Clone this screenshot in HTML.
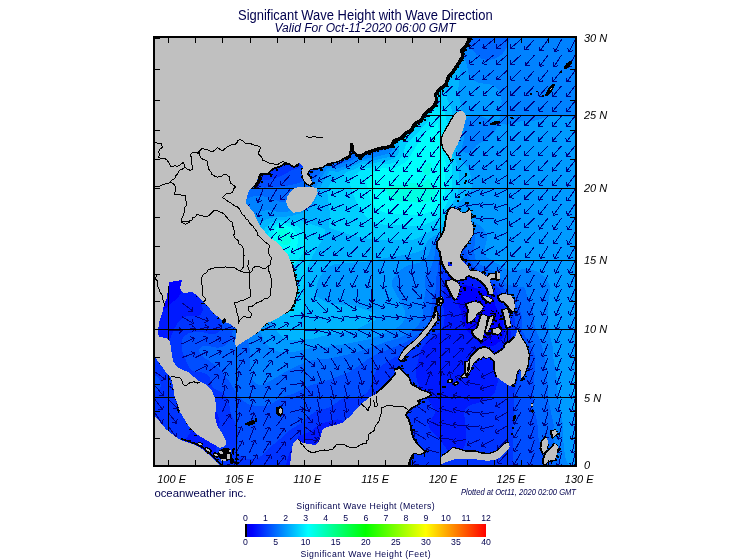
<!DOCTYPE html>
<html><head><meta charset="utf-8"><title>Significant Wave Height with Wave Direction</title>
<style>
html,body{margin:0;padding:0;background:#fff;}
body{width:755px;height:560px;overflow:hidden;font-family:"Liberation Sans",sans-serif;}
svg{display:block;font-family:"Liberation Sans",sans-serif;will-change:transform;}
</style></head><body>
<svg width="755" height="560" viewBox="0 0 755 560">
<defs>
<clipPath id="fr"><rect x="153" y="36" width="424" height="431"/></clipPath>
<linearGradient id="cb" x1="0" x2="1" y1="0" y2="0">
<stop offset="0" stop-color="#0000e0"/><stop offset="0.03" stop-color="#0000ff"/><stop offset="0.262" stop-color="#00ffff"/><stop offset="0.5" stop-color="#00ff00"/><stop offset="0.75" stop-color="#ffff00"/><stop offset="1" stop-color="#ff0000"/>
</linearGradient>
</defs>
<rect width="755" height="560" fill="#ffffff"/>
<g clip-path="url(#fr)">
<g shape-rendering="crispEdges">
<rect x="153" y="36" width="424" height="431" fill="#0000ff"/>
<path d="M237.4,36.0L577.0,36.0L577.0,468.0L153.0,468.0L153.0,317.7L155.0,317.0L159.0,314.2L177.5,298.0L181.0,293.4L182.2,288.0L180.9,282.0L177.5,276.0L164.5,260.0L155.0,246.8L153.0,245.1L153.0,158.7L155.0,157.0L162.7,146.0L167.7,140.0L173.5,134.0L181.0,127.4L189.0,121.6L197.0,116.6L222.1,104.0L229.0,100.0L234.1,96.0L237.6,92.0L239.9,88.0L241.4,84.0L242.7,74.0L241.7,60.0ZM460.5,286.0L457.9,288.0L456.7,290.0L456.0,292.0L455.7,296.0L457.0,301.9L460.6,310.0L462.9,322.0L465.6,328.0L468.6,332.0L476.1,340.0L479.0,342.7L483.0,345.4L489.0,346.6L493.0,345.8L497.0,343.8L501.0,340.3L503.5,336.0L503.8,332.0L503.2,324.0L501.8,318.0L495.5,306.0L493.0,296.5L491.8,294.0L489.0,291.6L479.0,289.2L470.5,286.0L465.0,285.2Z" fill="#001aff" fill-rule="evenodd"/>
<path d="M307.2,36.0L577.0,36.0L577.0,468.0L366.4,468.0L364.7,458.0L361.7,446.0L358.8,438.0L355.7,432.0L351.0,426.0L347.0,422.8L341.4,420.0L337.0,419.4L321.0,423.4L319.0,424.5L311.0,431.1L298.9,436.0L295.7,440.0L288.3,456.0L286.6,462.0L285.8,468.0L212.4,468.0L216.3,450.0L217.6,434.0L219.6,422.0L219.0,418.4L216.6,412.0L215.2,406.0L213.0,404.4L211.0,404.3L207.0,405.0L203.0,406.4L200.5,408.0L197.0,411.8L194.1,418.0L190.3,432.0L188.2,436.0L185.0,439.3L177.0,445.4L169.0,450.2L161.0,453.4L153.0,454.9L153.0,354.2L165.0,354.7L169.0,353.5L170.6,350.0L169.9,342.0L170.4,338.0L173.5,330.0L177.0,324.0L181.0,319.5L185.0,316.6L189.0,315.9L195.0,316.3L199.0,315.6L201.3,314.0L202.8,310.0L202.0,304.0L196.5,282.0L183.8,248.0L179.6,232.0L178.4,222.0L178.6,212.0L180.1,202.0L182.6,194.0L187.3,184.0L194.8,174.0L203.0,166.7L211.0,161.9L217.0,159.4L223.0,157.7L235.0,156.4L247.0,157.9L263.0,162.5L269.0,162.3L275.0,159.5L306.0,140.0L314.5,134.0L320.6,128.0L322.9,124.0L324.0,120.0L324.3,116.0L323.9,110.0L322.0,100.0L313.9,70.0L309.8,52.0ZM448.4,260.0L447.0,262.1L446.4,266.0L447.7,274.0L447.6,278.0L444.3,290.0L443.0,304.0L444.6,318.0L443.6,326.0L441.8,330.0L440.3,332.0L437.9,334.0L429.0,339.1L426.4,342.0L420.7,350.0L419.4,354.0L416.4,370.0L416.1,376.0L416.8,380.0L418.5,384.0L434.6,410.0L435.1,412.0L434.6,414.0L429.0,422.2L428.5,426.0L429.2,428.0L431.0,430.5L438.7,438.0L447.0,449.3L451.0,451.9L455.0,452.7L458.6,452.0L461.0,450.7L463.5,448.0L465.4,444.0L466.0,440.0L465.8,428.0L464.1,414.0L464.9,410.0L466.2,408.0L468.5,406.0L471.0,404.8L481.0,402.1L487.0,399.4L491.8,396.0L494.9,392.0L498.9,378.0L507.0,359.1L509.0,353.2L510.8,344.0L511.1,336.0L509.4,322.0L507.9,316.0L499.0,296.0L495.3,290.0L491.0,286.7L477.0,280.8L468.4,276.0L464.1,272.0L458.0,262.0L455.0,259.2L453.0,258.4L451.0,258.4Z" fill="#0034ff" fill-rule="evenodd"/>
<path d="M345.1,36.0L577.0,36.0L577.0,468.0L513.3,468.0L512.5,444.0L513.5,424.0L513.8,398.0L514.7,392.0L520.8,368.0L522.0,358.0L521.1,350.0L516.2,332.0L514.3,316.0L512.0,310.0L505.7,298.0L498.5,288.0L495.0,284.6L491.0,281.8L477.0,274.7L472.9,272.0L468.8,268.0L461.0,255.7L459.0,253.7L455.0,251.6L451.0,251.1L447.0,252.3L445.0,254.7L443.0,259.9L442.3,264.0L442.3,274.0L437.4,304.0L436.6,318.0L434.7,324.0L430.5,330.0L407.0,351.6L403.0,354.0L395.0,357.2L389.7,360.0L378.6,368.0L376.7,370.0L374.6,374.0L370.0,388.0L367.2,392.0L365.0,394.0L359.0,396.6L349.0,396.6L345.0,397.4L341.0,399.4L331.0,406.8L328.0,408.0L319.0,410.0L315.0,411.9L306.6,418.0L300.0,424.0L289.9,430.0L283.0,436.7L271.4,446.0L263.0,454.7L259.0,457.5L255.0,458.8L249.0,459.2L243.0,457.6L239.0,454.8L237.4,452.0L237.0,450.0L238.1,436.0L237.4,428.0L235.2,422.0L230.8,414.0L228.8,402.0L227.2,398.0L223.0,393.2L215.0,389.2L213.0,387.7L211.0,384.0L210.0,378.0L209.0,376.0L207.0,374.1L203.0,372.6L195.0,372.0L191.4,370.0L189.0,366.9L183.0,354.0L181.7,350.0L181.7,342.0L182.7,338.0L184.0,336.0L189.0,333.1L197.0,331.7L203.0,332.2L211.0,334.1L215.0,334.0L217.0,333.2L219.0,331.5L219.9,330.0L220.8,326.0L220.3,320.0L217.7,308.0L204.0,262.0L199.7,242.0L198.9,230.0L199.6,220.0L201.8,210.0L204.9,202.0L209.6,194.0L215.0,187.7L222.2,182.0L229.0,178.5L235.0,176.6L243.0,175.8L251.0,176.8L261.0,179.9L265.0,180.4L269.0,179.9L275.6,178.0L281.0,176.0L291.0,170.7L301.0,166.9L316.3,156.0L321.0,153.3L327.0,151.3L337.0,149.4L343.0,147.2L348.0,144.0L352.3,140.0L353.8,138.0L355.6,134.0L356.3,128.0L355.0,118.0L348.2,86.0L345.6,68.0L344.7,52.0ZM153.0,375.1L157.0,376.3L159.0,378.5L160.4,382.0L160.7,386.0L160.1,388.0L158.7,390.0L157.0,391.0L153.0,391.7Z" fill="#004eff" fill-rule="evenodd"/>
<path d="M374.5,36.0L577.0,36.0L577.0,468.0L552.3,468.0L552.2,462.0L551.0,458.9L543.1,450.0L539.9,444.0L538.2,436.0L537.3,422.0L533.0,406.0L532.5,402.0L535.0,364.0L534.7,356.0L533.0,350.2L530.1,344.0L522.6,332.0L521.7,328.0L522.0,316.0L520.0,310.0L509.9,294.0L497.0,281.1L491.0,276.3L478.8,270.0L473.6,266.0L470.9,262.0L465.0,249.1L463.0,246.9L459.0,244.8L453.0,244.2L445.0,244.6L441.0,246.0L440.0,248.0L437.9,270.0L435.7,280.0L435.5,290.0L432.1,302.0L430.5,316.0L428.5,322.0L423.4,330.0L419.0,333.9L403.0,343.8L391.4,348.0L371.0,356.8L355.0,368.6L347.0,372.9L327.0,380.7L311.0,385.1L295.0,393.1L283.0,396.9L269.0,405.3L263.0,406.5L257.0,406.2L249.0,404.5L243.0,400.7L237.0,393.5L229.0,381.1L221.0,370.4L211.0,362.1L203.0,356.9L200.2,354.0L199.4,352.0L199.2,350.0L200.0,348.0L203.0,345.8L207.0,345.6L217.0,347.8L221.0,347.3L225.0,345.4L227.0,343.8L229.9,340.0L231.6,336.0L232.5,332.0L232.7,324.0L231.1,314.0L218.4,270.0L215.7,258.0L214.4,248.0L214.1,236.0L215.3,226.0L218.0,216.0L221.6,208.0L225.4,202.0L230.5,196.0L235.1,192.0L241.0,188.6L245.0,187.3L249.0,186.6L265.0,187.6L283.0,186.3L291.0,185.1L299.0,183.1L303.0,181.2L307.0,178.2L317.0,168.5L321.0,163.5L325.0,160.5L329.0,159.6L337.0,159.8L347.0,156.9L357.0,151.1L369.0,147.1L372.6,144.0L373.9,140.0L373.8,136.0L368.9,98.0L367.8,76.0L368.3,66.0L369.6,56.0Z" fill="#0068ff" fill-rule="evenodd"/>
<path d="M395.7,48.0L403.8,36.0L462.7,36.0L463.6,38.0L467.8,44.0L477.0,55.1L481.0,58.3L483.0,59.2L487.0,60.0L491.0,59.6L495.0,58.5L499.0,56.6L502.3,54.0L506.4,48.0L511.2,36.0L577.0,36.0L577.0,468.0L560.5,468.0L558.9,460.0L553.8,442.0L553.3,436.0L553.6,424.0L548.3,400.0L547.8,384.0L545.9,372.0L544.6,356.0L541.0,343.1L534.6,326.0L532.8,308.0L527.0,296.0L525.0,288.2L523.0,287.1L515.0,286.6L507.0,284.1L504.1,282.0L499.0,276.0L495.0,272.3L489.0,268.7L479.0,264.1L477.0,262.1L475.1,258.0L474.3,252.0L474.2,248.0L475.4,240.0L475.1,236.0L473.0,231.5L471.0,230.8L453.0,238.0L441.0,241.2L439.0,242.0L436.6,244.0L435.1,248.0L434.6,256.0L431.7,266.0L429.8,270.0L425.6,276.0L425.0,278.0L425.6,290.0L423.8,302.0L423.0,316.0L419.0,324.2L415.0,328.4L403.4,336.0L399.4,338.0L387.0,341.6L355.0,352.9L329.0,358.6L313.0,359.9L307.0,361.4L285.0,372.0L269.0,381.8L263.0,384.5L259.0,384.8L256.5,384.0L254.0,382.0L251.6,378.0L250.3,372.0L250.2,354.0L249.2,346.0L242.4,314.0L231.0,276.0L227.2,258.0L226.4,248.0L226.9,238.0L228.5,230.0L231.3,222.0L234.3,216.0L238.3,210.0L245.0,201.8L249.0,197.9L253.0,196.5L263.0,196.3L271.0,198.0L281.0,202.5L285.0,202.2L301.0,192.5L309.0,186.9L313.0,182.6L315.9,178.0L321.0,171.9L325.0,166.0L327.0,164.7L329.0,164.2L335.0,164.9L339.0,164.5L351.0,160.5L359.0,155.9L372.2,154.0L383.0,150.1L385.0,148.4L385.7,146.0L383.6,134.0L383.0,118.0L383.4,94.0L385.0,78.0L387.8,66.0L391.5,56.0Z" fill="#0082ff" fill-rule="evenodd"/>
<path d="M435.0,45.9L441.0,45.7L447.0,46.7L453.0,49.0L457.0,51.3L461.0,54.6L465.0,59.8L466.6,64.0L468.8,74.0L473.0,79.6L475.0,81.1L479.0,82.9L491.0,84.7L494.2,86.0L497.1,88.0L499.8,92.0L501.6,100.0L501.3,108.0L499.1,122.0L499.9,124.0L507.0,124.6L521.0,121.2L535.0,120.5L553.0,115.7L557.0,115.6L569.0,117.1L577.0,117.4L577.0,468.0L570.0,468.0L566.1,460.0L565.0,456.0L562.9,438.0L562.5,422.0L559.7,408.0L557.1,386.0L556.3,374.0L553.6,360.0L552.9,348.0L549.6,334.0L547.8,318.0L547.5,308.0L550.4,290.0L549.4,284.0L547.0,280.0L543.4,276.0L539.0,272.7L535.0,270.7L531.0,269.5L527.0,269.0L523.0,269.1L513.0,270.9L509.0,270.6L505.0,268.6L487.0,257.2L485.0,254.9L484.1,252.0L484.2,250.0L486.9,240.0L486.8,236.0L485.5,232.0L482.6,228.0L480.4,226.0L469.0,218.4L467.0,217.9L465.0,218.1L463.0,219.6L454.2,230.0L449.3,234.0L445.8,236.0L437.0,239.1L435.0,240.3L431.9,244.0L428.9,254.0L427.0,257.2L425.0,259.4L419.0,262.8L409.0,265.2L403.3,268.0L398.4,272.0L393.6,278.0L391.8,282.0L391.8,286.0L402.6,306.0L404.4,310.0L405.3,314.0L404.9,318.0L403.0,322.0L399.5,326.0L395.0,329.2L373.0,338.1L367.0,339.8L343.0,344.6L325.0,347.1L311.0,348.1L295.0,351.7L287.0,352.4L277.0,351.4L271.0,348.5L267.0,344.7L263.6,340.0L259.4,330.0L242.3,278.0L239.5,268.0L238.0,260.0L237.3,250.0L237.9,242.0L239.8,234.0L243.5,226.0L247.0,221.2L251.0,217.4L255.0,214.6L261.0,211.5L265.0,210.4L269.0,210.3L281.0,212.4L285.0,212.5L289.0,211.3L297.7,206.0L305.0,200.2L311.0,193.7L315.0,188.2L325.9,170.0L328.0,168.0L331.0,167.4L335.0,168.2L339.0,168.1L351.0,164.0L361.0,158.9L371.0,158.2L387.0,154.0L391.0,152.1L392.1,150.0L392.2,148.0L390.2,138.0L390.8,130.0L397.8,90.0L399.7,82.0L402.6,74.0L405.5,68.0L409.0,62.5L413.0,57.7L416.9,54.0L425.0,48.8L429.0,47.3ZM471.0,116.0L469.0,117.0L465.9,120.0L464.7,122.0L463.7,126.0L464.2,138.0L461.9,148.0L463.0,151.3L465.0,152.8L467.0,153.1L470.5,152.0L477.0,144.9L487.0,139.0L491.0,136.0L494.4,132.0L497.4,126.0L497.3,124.0L481.0,115.9L477.0,114.9Z" fill="#009bff" fill-rule="evenodd"/>
<path d="M443.0,61.7L449.0,61.4L455.0,62.7L457.0,63.8L459.0,66.0L459.7,68.0L460.0,72.0L458.0,92.0L458.5,96.0L460.8,104.0L461.1,108.0L458.1,124.0L456.3,148.0L457.0,152.0L458.8,156.0L467.9,168.0L470.4,174.0L471.9,184.0L471.6,188.0L470.0,192.0L466.1,196.0L459.0,201.8L457.3,204.0L455.7,208.0L453.6,218.0L451.8,222.0L447.8,228.0L443.0,232.5L435.0,235.6L430.8,238.0L427.0,242.0L423.0,249.1L421.0,250.8L413.0,253.3L401.0,255.6L387.0,257.6L369.0,261.3L335.0,264.1L329.0,266.7L325.0,270.2L321.9,274.0L318.5,280.0L315.6,290.0L315.6,294.0L317.0,296.3L325.0,301.7L331.0,304.1L351.0,304.9L367.0,310.0L371.3,312.0L375.0,314.8L376.7,318.0L375.7,320.0L358.9,328.0L353.5,330.0L345.0,331.9L329.0,334.5L313.0,338.7L293.0,340.5L288.7,340.0L283.9,338.0L281.0,335.8L277.6,332.0L271.0,320.7L255.0,282.2L250.6,270.0L247.8,258.0L247.4,248.0L248.7,240.0L252.0,232.0L254.8,228.0L258.9,224.0L263.0,221.0L267.0,219.0L275.0,217.0L285.0,216.8L290.8,216.0L303.0,212.5L309.0,209.2L312.1,206.0L315.0,201.5L320.9,186.0L329.0,171.7L331.0,170.9L337.0,171.8L339.0,171.6L347.0,168.1L353.0,166.3L361.0,161.8L363.0,161.3L373.0,160.7L389.0,157.0L393.0,155.0L395.0,152.7L395.8,150.0L394.6,142.0L395.6,136.0L404.7,116.0L410.5,94.0L415.0,82.7L421.0,74.0L427.0,68.4L435.0,63.9ZM577.0,372.7L577.0,374.0L577.0,420.9L575.0,415.1L573.4,408.0L572.2,386.0L572.7,382.0L573.8,378.0L575.0,375.1Z" fill="#00b5ff" fill-rule="evenodd"/>
<path d="M433.0,85.5L437.0,84.1L439.0,84.2L441.0,84.9L443.0,86.7L444.6,90.0L446.8,98.0L451.3,108.0L452.3,112.0L452.7,118.0L451.9,144.0L452.2,150.0L453.8,156.0L457.7,166.0L459.3,174.0L458.8,188.0L457.6,194.0L452.0,204.0L447.0,217.6L443.0,223.8L438.4,228.0L429.0,232.0L419.0,237.7L413.0,239.7L407.0,240.4L383.0,240.3L365.0,238.3L353.0,235.7L329.3,228.0L328.6,226.0L329.7,218.0L329.7,212.0L327.2,192.0L328.0,188.0L331.3,182.0L333.0,179.9L341.0,176.3L347.0,171.9L355.0,169.1L363.0,164.1L371.0,164.1L381.0,161.5L389.0,160.3L393.0,158.9L396.9,156.0L399.0,152.0L399.3,150.0L398.7,144.0L399.6,140.0L401.0,137.9L413.8,124.0L416.7,120.0L418.6,116.0L421.2,104.0L424.2,96.0L428.0,90.0ZM279.0,220.0L293.0,219.9L301.0,220.8L322.5,228.0L325.3,230.0L324.6,234.0L322.1,240.0L313.0,255.2L305.6,272.0L302.8,290.0L304.6,302.0L303.9,308.0L303.0,310.3L301.0,313.0L297.0,315.9L295.0,316.6L293.0,316.7L291.0,316.0L289.0,314.4L283.0,306.5L263.0,271.9L259.5,264.0L257.3,256.0L256.6,250.0L256.9,244.0L258.5,238.0L260.4,234.0L264.9,228.0L269.4,224.0L275.0,221.1Z" fill="#00cfff" fill-rule="evenodd"/>
<path d="M435.0,106.9L437.0,106.6L439.0,107.0L441.0,108.1L444.3,112.0L446.0,116.0L446.8,122.0L447.6,150.0L451.6,164.0L452.2,168.0L451.6,192.0L450.3,196.0L443.0,211.6L439.0,216.8L433.0,221.3L425.0,224.5L417.0,226.4L411.0,226.5L399.0,225.2L385.0,225.0L377.0,223.2L371.0,220.5L367.0,217.6L363.7,214.0L356.2,202.0L350.4,186.0L350.2,182.0L351.6,178.0L353.5,176.0L364.0,168.0L371.0,167.6L381.0,164.4L391.0,163.6L395.0,162.2L399.0,159.6L402.3,156.0L403.3,154.0L405.4,146.0L406.4,144.0L427.0,122.8L428.6,120.0L429.7,114.0L431.0,110.5L433.0,108.1ZM277.0,223.4L281.0,222.3L285.0,222.4L291.0,223.5L295.0,224.9L299.0,227.2L302.0,230.0L305.0,236.0L305.6,240.0L305.3,246.0L304.2,250.0L302.3,254.0L299.0,259.0L293.0,266.1L289.0,269.5L287.0,270.3L285.0,270.6L281.0,269.9L277.0,267.8L273.0,264.5L268.3,258.0L265.4,250.0L265.2,242.0L266.9,236.0L271.3,228.0L273.1,226.0Z" fill="#00e9ff" fill-rule="evenodd"/>
<path d="M437.0,119.8L437.9,126.0L441.7,138.0L442.1,152.0L445.6,162.0L446.4,166.0L444.9,178.0L444.7,192.0L443.3,198.0L441.0,202.7L437.0,207.7L433.0,210.7L427.0,213.1L419.0,214.5L409.0,214.8L391.0,213.5L383.0,212.1L378.3,210.0L375.8,208.0L373.0,204.5L369.4,196.0L366.3,182.0L366.9,178.0L368.2,176.0L370.4,174.0L379.0,168.8L383.0,168.1L389.0,168.7L393.0,168.4L397.0,167.0L405.4,162.0L409.1,158.0L415.1,148.0L424.6,134.0L427.0,131.4L434.6,126.0L436.5,124.0ZM279.0,225.4L281.0,224.9L285.0,225.2L291.0,227.6L295.7,232.0L297.7,236.0L298.3,242.0L296.4,248.0L293.0,252.1L291.0,253.5L287.0,255.1L283.0,255.3L279.0,253.8L275.0,250.1L272.9,246.0L272.0,240.0L273.5,232.0L275.5,228.0Z" fill="#00fffb" fill-rule="evenodd"/>
<path d="M427.0,163.2L429.0,162.3L431.0,163.7L431.5,166.0L431.0,170.0L429.0,174.7L427.0,176.0L425.0,174.6L423.0,172.0L423.0,170.0L423.7,168.0ZM427.0,178.7L429.0,178.6L431.0,180.8L435.0,187.2L436.6,192.0L436.3,196.0L435.2,198.0L431.0,200.9L427.0,202.2L421.0,202.8L401.0,201.7L393.0,199.5L390.4,198.0L387.2,194.0L386.4,190.0L386.6,188.0L387.9,186.0L389.0,185.4L401.0,185.3L411.0,183.0L419.0,183.7L421.0,183.4L424.2,182.0L426.4,180.0ZM279.0,229.4L281.0,228.1L283.0,228.1L287.0,229.9L289.2,232.0L290.6,234.0L291.7,238.0L291.0,241.9L289.0,244.2L287.0,245.0L283.0,244.7L281.0,243.5L279.0,241.2L277.8,238.0L277.4,234.0L277.7,232.0Z" fill="#00ffe1" fill-rule="evenodd"/>
</g>
<path d="M154.4,412.3L162.4,423.8M162.4,423.8L158.1,422.9M162.4,423.8L163.1,419.4M154.4,398.7L162.7,409.9M162.7,409.9L158.4,409.2M162.7,409.9L163.3,405.6M154.4,385.0L163.4,395.8M163.4,395.8L159.0,395.3M163.4,395.8L163.7,391.4M154.4,371.4L165.7,379.6M165.7,379.6L161.4,380.2M165.7,379.6L165.0,375.3M168.0,425.9L176.3,437.2M176.3,437.2L171.9,436.4M176.3,437.2L176.9,432.8M168.0,412.3L176.7,423.2M176.7,423.2L172.4,422.7M176.7,423.2L177.1,418.8M168.0,398.7L177.7,408.8M177.7,408.8L173.3,408.6M177.7,408.8L177.7,404.4M168.0,385.0L179.1,393.6M179.1,393.6L174.7,394.1M179.1,393.6L178.4,389.2M168.0,330.2L182.0,330.5M182.0,330.5L178.8,333.5M182.0,330.5L178.9,327.4M181.6,357.7L194.8,353.1M194.8,353.1L192.8,357.1M194.8,353.1L190.8,351.3M181.6,344.0L194.3,338.1M194.3,338.1L192.7,342.2M194.3,338.1L190.1,336.6M181.6,330.2L195.4,328.2M195.4,328.2L192.7,331.7M195.4,328.2L191.8,325.6M181.6,316.4L193.5,323.7M193.5,323.7L189.2,324.6M193.5,323.7L192.4,319.4M181.6,302.6L192.7,311.0M192.7,311.0L188.4,311.5M192.7,311.0L192.1,306.7M195.1,371.4L207.7,365.3M207.7,365.3L206.2,369.4M207.7,365.3L203.6,363.9M195.1,357.7L207.6,351.4M207.6,351.4L206.2,355.5M207.6,351.4L203.4,350.1M195.1,344.0L207.6,337.5M207.6,337.5L206.2,341.7M207.6,337.5L203.3,336.3M195.1,330.2L208.7,326.8M208.7,326.8L206.4,330.5M208.7,326.8L204.9,324.6M195.1,316.4L208.3,321.1M208.3,321.1L204.3,322.9M208.3,321.1L206.4,317.2M208.7,385.0L218.0,374.6M218.0,374.6L218.2,379.0M218.0,374.6L213.6,374.9M208.7,371.4L219.9,363.0M219.9,363.0L219.2,367.3M219.9,363.0L215.5,362.4M208.7,357.7L221.1,351.2M221.1,351.2L219.7,355.3M221.1,351.2L216.9,349.9M208.7,344.0L221.2,337.7M221.2,337.7L219.8,341.8M221.2,337.7L217.0,336.4M208.7,330.2L222.2,326.4M222.2,326.4L220.0,330.2M222.2,326.4L218.3,324.3M222.3,466.6L235.5,462.0M235.5,462.0L233.5,465.9M235.5,462.0L231.5,460.2M222.3,425.9L230.5,414.5M230.5,414.5L231.1,418.9M230.5,414.5L226.1,415.3M222.3,412.3L227.6,399.3M227.6,399.3L229.2,403.4M227.6,399.3L223.6,401.1M222.3,398.7L225.3,385.0M225.3,385.0L227.6,388.8M225.3,385.0L221.7,387.4M222.3,385.0L226.5,371.7M226.5,371.7L228.5,375.6M226.5,371.7L222.7,373.8M222.3,371.4L231.7,361.0M231.7,361.0L231.9,365.4M231.7,361.0L227.3,361.3M222.3,357.7L234.2,350.3M234.2,350.3L233.1,354.6M234.2,350.3L229.9,349.4M222.3,344.0L234.7,337.6M234.7,337.6L233.3,341.8M234.7,337.6L230.5,336.3M222.3,330.2L235.4,325.4M235.4,325.4L233.5,329.3M235.4,325.4L231.4,323.6M235.8,466.6L245.0,456.0M245.0,456.0L245.3,460.4M245.0,456.0L240.6,456.4M235.8,453.0L242.7,440.8M242.7,440.8L243.8,445.1M242.7,440.8L238.5,442.1M235.8,439.5L241.7,426.7M241.7,426.7L243.1,430.9M241.7,426.7L237.6,428.3M235.8,425.9L240.4,412.6M240.4,412.6L242.3,416.6M240.4,412.6L236.5,414.6M235.8,412.3L239.2,398.7M239.2,398.7L241.4,402.5M239.2,398.7L235.4,401.0M235.8,398.7L238.2,384.9M238.2,384.9L240.7,388.5M238.2,384.9L234.7,387.5M235.8,385.0L239.4,371.5M239.4,371.5L241.5,375.3M239.4,371.5L235.6,373.8M235.8,371.4L243.7,359.8M243.7,359.8L244.5,364.1M243.7,359.8L239.4,360.7M235.8,357.7L246.8,349.0M246.8,349.0L246.2,353.4M246.8,349.0L242.5,348.6M249.4,466.6L256.9,454.7M256.9,454.7L257.8,459.0M256.9,454.7L252.6,455.8M249.4,453.0L254.9,440.2M254.9,440.2L256.5,444.3M254.9,440.2L250.9,441.9M249.4,439.5L254.5,426.4M254.5,426.4L256.2,430.5M254.5,426.4L250.5,428.3M249.4,425.9L254.1,412.7M254.1,412.7L255.9,416.7M254.1,412.7L250.2,414.6M249.4,412.3L253.6,398.9M253.6,398.9L255.5,402.8M253.6,398.9L249.7,401.0M249.4,398.7L253.3,385.2M253.3,385.2L255.4,389.1M253.3,385.2L249.5,387.4M249.4,385.0L253.8,371.7M253.8,371.7L255.7,375.7M253.8,371.7L249.9,373.8M249.4,371.4L256.9,359.5M256.9,359.5L257.8,363.8M256.9,359.5L252.6,360.6M249.4,357.7L260.1,348.7M260.1,348.7L259.7,353.0M260.1,348.7L255.7,348.4M249.4,344.0L262.1,338.1M262.1,338.1L260.5,342.2M262.1,338.1L258.0,336.6M249.4,203.9L244.8,217.1M244.8,217.1L242.9,213.1M244.8,217.1L248.7,215.1M263.0,466.6L270.8,454.9M270.8,454.9L271.5,459.3M270.8,454.9L266.5,455.9M263.0,453.0L270.1,441.0M270.1,441.0L271.1,445.2M270.1,441.0L265.9,442.1M263.0,439.5L269.6,427.1M269.6,427.1L270.8,431.3M269.6,427.1L265.4,428.5M263.0,425.9L269.3,413.4M269.3,413.4L270.6,417.6M269.3,413.4L265.2,414.8M263.0,412.3L269.2,399.7M269.2,399.7L270.5,403.9M269.2,399.7L265.1,401.2M263.0,398.7L269.3,386.2M269.3,386.2L270.6,390.4M269.3,386.2L265.1,387.6M263.0,385.0L270.2,373.0M270.2,373.0L271.2,377.3M270.2,373.0L265.9,374.2M263.0,371.4L272.0,360.7M272.0,360.7L272.3,365.1M272.0,360.7L267.7,361.1M263.0,357.7L273.7,348.7M273.7,348.7L273.3,353.1M273.7,348.7L269.3,348.4M263.0,344.0L274.8,336.4M274.8,336.4L273.8,340.7M274.8,336.4L270.5,335.6M263.0,330.2L275.6,324.1M275.6,324.1L274.1,328.2M275.6,324.1L271.4,322.7M263.0,218.2L257.4,231.1M257.4,231.1L255.9,226.9M257.4,231.1L261.5,229.4M263.0,203.9L257.6,216.8M257.6,216.8L256.0,212.7M257.6,216.8L261.6,215.1M263.0,189.5L257.8,202.5M257.8,202.5L256.2,198.5M257.8,202.5L261.8,200.7M263.0,175.0L257.1,187.7M257.1,187.7L255.7,183.6M257.1,187.7L261.2,186.1M276.6,466.6L285.2,455.6M285.2,455.6L285.6,459.9M285.2,455.6L280.8,456.2M276.6,453.0L285.0,441.9M285.0,441.9L285.5,446.2M285.0,441.9L280.7,442.5M276.6,439.5L284.7,428.0M284.7,428.0L285.3,432.4M284.7,428.0L280.3,428.8M276.6,425.9L284.7,414.5M284.7,414.5L285.4,418.9M284.7,414.5L280.4,415.3M276.6,412.3L285.3,401.3M285.3,401.3L285.7,405.7M285.3,401.3L280.9,401.9M276.6,398.7L285.6,387.9M285.6,387.9L285.9,392.3M285.6,387.9L281.2,388.4M276.6,385.0L286.9,375.6M286.9,375.6L286.6,380.0M286.9,375.6L282.5,375.5M276.6,371.4L288.1,363.5M288.1,363.5L287.2,367.8M288.1,363.5L283.8,362.7M276.6,357.7L288.2,349.9M288.2,349.9L287.3,354.2M288.2,349.9L283.9,349.1M276.6,344.0L288.1,336.0M288.1,336.0L287.2,340.3M288.1,336.0L283.7,335.3M276.6,330.2L288.6,323.1M288.6,323.1L287.4,327.3M288.6,323.1L284.3,322.1M276.6,232.4L267.1,242.7M267.1,242.7L267.0,238.3M267.1,242.7L271.5,242.5M276.6,218.2L269.6,230.4M269.6,230.4L268.5,226.1M269.6,230.4L273.8,229.1M276.6,203.9L269.7,216.1M269.7,216.1L268.6,211.9M269.7,216.1L273.9,214.9M276.6,189.5L269.4,201.6M269.4,201.6L268.4,197.3M269.4,201.6L273.7,200.4M276.6,175.0L269.1,186.9M269.1,186.9L268.2,182.6M269.1,186.9L273.4,185.8M290.1,453.0L300.1,443.2M300.1,443.2L300.0,447.6M300.1,443.2L295.7,443.3M290.1,439.5L300.6,430.1M300.6,430.1L300.3,434.5M300.6,430.1L296.2,430.0M290.1,425.9L302.2,418.9M302.2,418.9L301.0,423.1M302.2,418.9L298.0,417.8M290.1,412.3L303.7,408.7M303.7,408.7L301.4,412.4M303.7,408.7L299.8,406.5M290.1,398.7L303.7,395.1M303.7,395.1L301.4,398.8M303.7,395.1L299.8,392.9M290.1,385.0L304.0,383.1M304.0,383.1L301.3,386.6M304.0,383.1L300.4,380.5M290.1,371.4L304.0,369.9M304.0,369.9L301.2,373.2M304.0,369.9L300.6,367.2M290.1,357.7L304.0,355.9M304.0,355.9L301.3,359.4M304.0,355.9L300.5,353.3M290.1,344.0L303.7,340.5M303.7,340.5L301.4,344.3M303.7,340.5L299.9,338.3M290.1,330.2L302.0,322.8M302.0,322.8L300.9,327.1M302.0,322.8L297.7,321.9M290.1,316.4L304.1,315.1M304.1,315.1L301.2,318.5M304.1,315.1L300.6,312.4M290.1,246.6L277.4,252.4M277.4,252.4L279.0,248.3M277.4,252.4L281.5,253.9M290.1,232.4L277.9,239.3M277.9,239.3L279.2,235.1M277.9,239.3L282.2,240.4M290.1,218.2L279.3,227.1M279.3,227.1L279.8,222.7M279.3,227.1L283.7,227.5M290.1,189.5L280.6,199.8M280.6,199.8L280.5,195.4M280.6,199.8L285.0,199.5M290.1,175.0L280.7,185.4M280.7,185.4L280.6,181.0M280.7,185.4L285.1,185.1M303.7,439.5L317.7,440.3M317.7,440.3L314.3,443.2M317.7,440.3L314.7,437.1M303.7,425.9L315.0,434.2M315.0,434.2L310.6,434.8M315.0,434.2L314.2,429.8M303.7,412.3L312.7,423.0M312.7,423.0L308.4,422.5M312.7,423.0L313.0,418.6M303.7,398.7L309.0,411.6M309.0,411.6L305.0,409.8M309.0,411.6L310.6,407.5M303.7,385.0L312.6,395.9M312.6,395.9L308.2,395.4M312.6,395.9L312.9,391.5M303.7,371.4L314.2,380.6M314.2,380.6L309.9,380.8M314.2,380.6L313.9,376.2M303.7,357.7L315.0,366.0M315.0,366.0L310.6,366.6M315.0,366.0L314.2,361.7M303.7,344.0L317.0,348.4M317.0,348.4L313.0,350.3M317.0,348.4L314.9,344.5M303.7,330.2L317.7,330.8M317.7,330.8L314.4,333.7M317.7,330.8L314.7,327.6M303.7,316.4L317.6,317.9M317.6,317.9L314.1,320.6M317.6,317.9L314.8,314.5M303.7,302.6L311.7,314.0M311.7,314.0L307.4,313.2M311.7,314.0L312.4,309.7M303.7,288.7L296.5,300.7M296.5,300.7L295.5,296.4M296.5,300.7L300.8,299.5M303.7,274.7L296.2,286.5M296.2,286.5L295.3,282.2M296.2,286.5L300.5,285.5M303.7,260.7L293.1,269.8M293.1,269.8L293.5,265.4M293.1,269.8L297.4,270.0M303.7,246.6L291.0,252.4M291.0,252.4L292.6,248.3M291.0,252.4L295.1,253.9M303.7,232.4L290.6,237.3M290.6,237.3L292.5,233.3M290.6,237.3L294.6,239.1M303.7,218.2L291.1,224.2M291.1,224.2L292.6,220.1M291.1,224.2L295.2,225.6M317.3,439.5L324.8,451.3M324.8,451.3L320.5,450.2M324.8,451.3L325.6,447.0M317.3,425.9L320.8,439.4M320.8,439.4L317.0,437.1M320.8,439.4L322.9,435.6M317.3,412.3L319.7,426.1M319.7,426.1L316.1,423.5M319.7,426.1L322.2,422.4M317.3,398.7L320.0,412.4M320.0,412.4L316.4,409.9M320.0,412.4L322.4,408.7M317.3,385.0L320.4,398.7M320.4,398.7L316.7,396.3M320.4,398.7L322.7,394.9M317.3,371.4L322.5,384.4M322.5,384.4L318.5,382.6M322.5,384.4L324.2,380.3M317.3,357.7L325.1,369.3M325.1,369.3L320.8,368.4M325.1,369.3L325.9,364.9M317.3,344.0L328.7,352.0M328.7,352.0L324.4,352.7M328.7,352.0L327.9,347.7M317.3,330.2L330.8,333.8M330.8,333.8L327.0,335.9M330.8,333.8L328.5,330.0M317.3,316.4L330.7,320.5M330.7,320.5L326.7,322.5M330.7,320.5L328.5,316.7M317.3,302.6L327.4,312.2M327.4,312.2L323.0,312.2M327.4,312.2L327.2,307.8M317.3,288.7L313.4,302.1M313.4,302.1L311.3,298.2M313.4,302.1L317.2,299.9M317.3,274.7L309.8,286.5M309.8,286.5L308.9,282.2M309.8,286.5L314.0,285.5M317.3,260.7L308.5,271.6M308.5,271.6L308.1,267.2M308.5,271.6L312.8,271.0M317.3,246.6L305.5,254.2M305.5,254.2L306.5,249.9M305.5,254.2L309.8,255.0M317.3,232.4L304.4,238.0M304.4,238.0L306.1,233.9M304.4,238.0L308.5,239.5M317.3,218.2L304.2,223.3M304.2,223.3L306.1,219.3M304.2,223.3L308.3,225.0M317.3,203.9L304.2,209.0M304.2,209.0L306.1,205.0M304.2,209.0L308.3,210.7M317.3,175.0L305.1,182.0M305.1,182.0L306.4,177.8M305.1,182.0L309.4,183.1M330.8,412.3L333.1,426.1M333.1,426.1L329.5,423.5M333.1,426.1L335.6,422.5M330.8,398.7L333.3,412.4M333.3,412.4L329.8,409.9M333.3,412.4L335.8,408.8M330.8,385.0L334.0,398.7M334.0,398.7L330.3,396.3M334.0,398.7L336.3,394.9M330.8,371.4L335.3,384.6M335.3,384.6L331.4,382.6M335.3,384.6L337.2,380.7M330.8,357.7L338.1,369.6M338.1,369.6L333.9,368.5M338.1,369.6L339.1,365.3M330.8,344.0L341.8,352.7M341.8,352.7L337.4,353.1M341.8,352.7L341.2,348.3M330.8,330.2L344.0,334.8M344.0,334.8L340.0,336.7M344.0,334.8L342.1,330.9M330.8,316.4L344.5,319.5M344.5,319.5L340.7,321.8M344.5,319.5L342.1,315.8M330.8,302.6L341.8,311.3M341.8,311.3L337.4,311.7M341.8,311.3L341.2,306.9M330.8,288.7L327.7,302.3M327.7,302.3L325.4,298.5M327.7,302.3L331.4,299.9M330.8,274.7L323.5,286.6M323.5,286.6L322.5,282.3M323.5,286.6L327.7,285.5M330.8,260.7L322.0,271.5M322.0,271.5L321.6,267.1M322.0,271.5L326.3,271.0M330.8,246.6L319.6,255.0M319.6,255.0L320.3,250.6M319.6,255.0L324.0,255.5M330.8,232.4L318.3,238.6M318.3,238.6L319.8,234.5M318.3,238.6L322.5,240.0M330.8,218.2L317.8,223.4M317.8,223.4L319.6,219.4M317.8,223.4L321.9,225.1M330.8,203.9L317.7,208.8M317.7,208.8L319.6,204.8M317.7,208.8L321.7,210.5M330.8,189.5L317.8,194.6M317.8,194.6L319.6,190.6M317.8,194.6L321.9,196.3M330.8,175.0L318.2,181.0M318.2,181.0L319.7,176.9M318.2,181.0L322.3,182.4M344.4,412.3L346.1,426.2M346.1,426.2L342.7,423.4M346.1,426.2L348.8,422.7M344.4,398.7L346.8,412.5M346.8,412.5L343.3,409.9M346.8,412.5L349.3,408.8M344.4,385.0L347.6,398.7M347.6,398.7L343.9,396.3M347.6,398.7L349.9,394.9M344.4,371.4L348.8,384.7M348.8,384.7L344.9,382.6M348.8,384.7L350.7,380.7M344.4,357.7L351.4,369.8M351.4,369.8L347.2,368.6M351.4,369.8L352.5,365.5M344.4,344.0L355.5,352.5M355.5,352.5L351.1,353.0M355.5,352.5L354.9,348.2M344.4,330.2L357.1,336.1M357.1,336.1L353.0,337.5M357.1,336.1L355.5,332.0M344.4,316.4L358.3,318.1M358.3,318.1L354.8,320.7M358.3,318.1L355.5,314.7M344.4,302.6L356.3,309.9M356.3,309.9L352.0,310.8M356.3,309.9L355.2,305.6M344.4,288.7L340.1,302.0M340.1,302.0L338.1,298.0M340.1,302.0L343.9,299.9M344.4,274.7L337.0,286.6M337.0,286.6L336.1,282.3M337.0,286.6L341.3,285.5M344.4,260.7L335.7,271.7M335.7,271.7L335.3,267.3M335.7,271.7L340.1,271.1M344.4,246.6L333.7,255.6M333.7,255.6L334.1,251.2M333.7,255.6L338.1,255.9M344.4,232.4L332.2,239.3M332.2,239.3L333.5,235.1M332.2,239.3L336.5,240.4M344.4,218.2L331.7,224.0M331.7,224.0L333.3,219.9M331.7,224.0L335.8,225.5M344.4,203.9L331.5,209.4M331.5,209.4L333.2,205.4M331.5,209.4L335.7,211.0M344.4,189.5L331.5,195.0M331.5,195.0L333.2,190.9M331.5,195.0L335.6,196.6M344.4,175.0L331.7,180.8M331.7,180.8L333.3,176.7M331.7,180.8L335.8,182.3M344.4,160.4L332.2,167.3M332.2,167.3L333.5,163.1M332.2,167.3L336.5,168.4M358.0,398.7L360.4,412.5M360.4,412.5L356.9,409.9M360.4,412.5L362.9,408.8M358.0,385.0L361.6,398.5M361.6,398.5L357.9,396.3M361.6,398.5L363.8,394.7M358.0,371.4L362.6,384.6M362.6,384.6L358.7,382.6M362.6,384.6L364.4,380.6M358.0,357.7L365.2,369.7M365.2,369.7L361.0,368.5M365.2,369.7L366.2,365.4M358.0,344.0L368.6,353.1M368.6,353.1L364.2,353.3M368.6,353.1L368.2,348.7M358.0,330.2L370.7,336.0M370.7,336.0L366.6,337.5M370.7,336.0L369.1,331.9M358.0,316.4L371.7,319.0M371.7,319.0L368.1,321.4M371.7,319.0L369.2,315.4M358.0,302.6L371.3,307.0M371.3,307.0L367.3,308.9M371.3,307.0L369.2,303.1M358.0,288.7L356.4,302.6M356.4,302.6L353.7,299.1M356.4,302.6L359.8,299.8M358.0,274.7L351.9,287.3M351.9,287.3L350.5,283.1M351.9,287.3L356.0,285.8M358.0,260.7L350.4,272.4M350.4,272.4L349.5,268.1M350.4,272.4L354.7,271.4M358.0,246.6L347.9,256.3M347.9,256.3L348.0,251.9M347.9,256.3L352.3,256.3M358.0,232.4L346.0,239.8M346.0,239.8L347.1,235.5M346.0,239.8L350.3,240.7M358.0,218.2L345.6,224.8M345.6,224.8L347.0,220.6M345.6,224.8L349.9,226.0M358.0,203.9L345.7,210.6M345.7,210.6L347.0,206.4M345.7,210.6L349.9,211.8M358.0,189.5L345.7,196.2M345.7,196.2L347.0,192.0M345.7,196.2L349.9,197.4M358.0,175.0L345.7,181.7M345.7,181.7L347.0,177.5M345.7,181.7L349.9,182.9M358.0,160.4L346.0,167.7M346.0,167.7L347.1,163.5M346.0,167.7L350.3,168.7M371.5,385.0L376.1,398.3M376.1,398.3L372.2,396.3M376.1,398.3L378.0,394.3M371.5,371.4L376.9,384.3M376.9,384.3L372.9,382.5M376.9,384.3L378.5,380.2M371.5,357.7L378.6,369.8M378.6,369.8L374.4,368.6M378.6,369.8L379.7,365.5M371.5,344.0L382.6,352.6M382.6,352.6L378.2,353.1M382.6,352.6L382.0,348.3M371.5,330.2L383.9,336.8M383.9,336.8L379.7,338.0M383.9,336.8L382.6,332.6M371.5,316.4L385.4,318.5M385.4,318.5L381.8,321.0M385.4,318.5L382.7,315.0M371.5,302.6L384.6,307.6M384.6,307.6L380.5,309.3M384.6,307.6L382.8,303.6M371.5,288.7L372.0,302.6M372.0,302.6L368.9,299.6M372.0,302.6L375.0,299.4M371.5,274.7L367.3,288.0M367.3,288.0L365.3,284.1M367.3,288.0L371.1,286.0M371.5,260.7L364.7,272.9M364.7,272.9L363.6,268.6M364.7,272.9L368.9,271.6M371.5,246.6L362.2,257.0M362.2,257.0L362.0,252.6M362.2,257.0L366.6,256.7M371.5,232.4L360.4,240.9M360.4,240.9L361.1,236.6M360.4,240.9L364.8,241.4M371.5,218.2L359.8,225.9M359.8,225.9L360.8,221.6M359.8,225.9L364.2,226.7M371.5,203.9L359.9,211.7M359.9,211.7L360.9,207.4M359.9,211.7L364.3,212.5M371.5,189.5L360.1,197.5M360.1,197.5L360.9,193.2M360.1,197.5L364.4,198.2M371.5,175.0L360.3,183.3M360.3,183.3L361.0,179.0M360.3,183.3L364.6,183.9M371.5,160.4L360.7,169.3M360.7,169.3L361.2,164.9M360.7,169.3L365.1,169.7M385.1,371.4L393.5,382.6M393.5,382.6L389.2,381.9M393.5,382.6L394.1,378.2M385.1,357.7L393.2,369.1M393.2,369.1L388.9,368.3M393.2,369.1L393.9,364.7M385.1,344.0L395.5,353.3M395.5,353.3L391.2,353.5M395.5,353.3L395.2,348.9M385.1,330.2L397.7,336.3M397.7,336.3L393.5,337.7M397.7,336.3L396.2,332.2M385.1,316.4L399.0,317.8M399.0,317.8L395.6,320.5M399.0,317.8L396.2,314.5M385.1,302.6L398.7,305.8M398.7,305.8L395.0,308.0M398.7,305.8L396.4,302.1M385.1,288.7L389.5,302.0M389.5,302.0L385.6,299.9M389.5,302.0L391.4,298.0M385.1,274.7L383.1,288.6M383.1,288.6L380.5,285.0M383.1,288.6L386.6,285.9M385.1,260.7L379.8,273.6M379.8,273.6L378.1,269.5M379.8,273.6L383.8,271.9M385.1,246.6L376.7,257.8M376.7,257.8L376.1,253.4M376.7,257.8L381.0,257.1M385.1,232.4L374.7,241.7M374.7,241.7L375.0,237.4M374.7,241.7L379.1,241.9M385.1,218.2L374.1,226.9M374.1,226.9L374.7,222.5M374.1,226.9L378.5,227.3M385.1,203.9L374.3,212.8M374.3,212.8L374.8,208.4M374.3,212.8L378.7,213.2M385.1,189.5L374.7,198.9M374.7,198.9L375.0,194.5M374.7,198.9L379.1,199.0M385.1,175.0L375.1,184.8M375.1,184.8L375.2,180.4M375.1,184.8L379.5,184.8M385.1,160.4L375.6,170.7M375.6,170.7L375.5,166.3M375.6,170.7L380.0,170.5M398.7,344.0L410.8,350.9M410.8,350.9L406.6,352.0M410.8,350.9L409.6,346.7M398.7,330.2L411.1,336.7M411.1,336.7L406.9,338.0M411.1,336.7L409.7,332.5M398.7,316.4L412.4,319.1M412.4,319.1L408.7,321.5M412.4,319.1L409.9,315.5M398.7,302.6L412.1,306.4M412.1,306.4L408.3,308.5M412.1,306.4L409.9,302.6M398.7,288.7L406.6,300.2M406.6,300.2L402.3,299.3M406.6,300.2L407.3,295.9M398.7,274.7L399.9,288.7M399.9,288.7L396.6,285.8M399.9,288.7L402.6,285.2M398.7,260.7L395.5,274.3M395.5,274.3L393.2,270.5M395.5,274.3L399.2,271.9M398.7,246.6L391.5,258.6M391.5,258.6L390.5,254.3M391.5,258.6L395.7,257.5M398.7,232.4L388.6,242.1M388.6,242.1L388.7,237.7M388.6,242.1L393.0,242.1M398.7,218.2L388.2,227.5M388.2,227.5L388.6,223.1M388.2,227.5L392.6,227.7M398.7,203.9L388.7,213.8M388.7,213.8L388.8,209.4M388.7,213.8L393.1,213.7M398.7,189.5L389.6,200.1M389.6,200.1L389.3,195.7M389.6,200.1L393.9,199.7M398.7,175.0L389.7,185.8M389.7,185.8L389.4,181.4M389.7,185.8L394.1,185.3M398.7,160.4L390.1,171.5M390.1,171.5L389.6,167.1M390.1,171.5L394.5,170.9M398.7,145.8L390.4,157.0M390.4,157.0L389.8,152.7M390.4,157.0L394.7,156.3M412.3,466.6L398.7,463.2M398.7,463.2L402.5,461.0M398.7,463.2L401.0,466.9M412.3,425.9L400.3,418.6M400.3,418.6L404.6,417.7M400.3,418.6L401.4,422.9M412.3,412.3L401.5,403.3M401.5,403.3L405.9,403.0M401.5,403.3L402.0,407.7M412.3,371.4L423.2,362.6M423.2,362.6L422.6,367.0M423.2,362.6L418.8,362.2M412.3,357.7L424.7,351.2M424.7,351.2L423.3,355.4M424.7,351.2L420.4,349.9M412.3,330.2L426.3,330.5M426.3,330.5L423.0,333.5M426.3,330.5L423.1,327.3M412.3,316.4L426.1,318.2M426.1,318.2L422.6,320.8M426.1,318.2L423.4,314.8M412.3,302.6L425.8,306.1M425.8,306.1L422.0,308.3M425.8,306.1L423.5,302.3M412.3,288.7L421.8,298.9M421.8,298.9L417.4,298.7M421.8,298.9L421.9,294.5M412.3,274.7L416.2,288.1M416.2,288.1L412.4,286.0M416.2,288.1L418.2,284.2M412.3,260.7L411.8,274.7M411.8,274.7L408.8,271.4M411.8,274.7L415.0,271.6M412.3,246.6L407.1,259.6M407.1,259.6L405.4,255.5M407.1,259.6L411.1,257.8M412.3,232.4L403.2,243.1M403.2,243.1L402.9,238.8M403.2,243.1L407.6,242.7M412.3,218.2L402.4,228.2M402.4,228.2L402.5,223.8M402.4,228.2L406.8,228.1M412.3,203.9L403.3,214.6M403.3,214.6L403.0,210.3M403.3,214.6L407.7,214.2M412.3,189.5L404.0,200.9M404.0,200.9L403.4,196.5M404.0,200.9L408.4,200.1M412.3,175.0L403.9,186.2M403.9,186.2L403.3,181.9M403.9,186.2L408.2,185.5M412.3,160.4L404.0,171.7M404.0,171.7L403.4,167.4M404.0,171.7L408.3,171.0M412.3,145.8L404.0,157.1M404.0,157.1L403.4,152.7M404.0,157.1L408.3,156.3M412.3,131.0L403.5,141.9M403.5,141.9L403.1,137.5M403.5,141.9L407.9,141.3M425.8,466.6L412.2,463.5M412.2,463.5L415.9,461.2M412.2,463.5L414.6,467.2M425.8,453.0L412.9,447.6M412.9,447.6L417.0,446.0M412.9,447.6L414.7,451.6M425.8,439.5L413.9,432.1M413.9,432.1L418.2,431.2M413.9,432.1L415.0,436.4M425.8,425.9L413.9,418.6M413.9,418.6L418.2,417.6M413.9,418.6L415.0,422.8M425.8,412.3L414.4,404.2M414.4,404.2L418.7,403.5M414.4,404.2L415.2,408.5M425.8,398.7L418.8,386.6M418.8,386.6L423.0,387.8M418.8,386.6L417.7,390.8M425.8,385.0L430.8,371.9M430.8,371.9L432.5,376.0M430.8,371.9L426.8,373.8M425.8,371.4L435.3,361.0M435.3,361.0L435.4,365.4M435.3,361.0L430.9,361.3M425.8,357.7L436.0,348.1M436.0,348.1L435.8,352.5M436.0,348.1L431.6,348.0M425.8,344.0L436.3,334.6M436.3,334.6L435.9,339.0M436.3,334.6L431.9,334.5M425.8,316.4L439.8,315.9M439.8,315.9L436.8,319.1M439.8,315.9L436.6,313.0M425.8,302.6L439.7,304.6M439.7,304.6L436.1,307.2M439.7,304.6L437.0,301.1M425.8,288.7L435.9,298.4M435.9,298.4L431.5,298.4M435.9,298.4L435.8,294.0M425.8,274.7L432.4,287.1M432.4,287.1L428.2,285.7M432.4,287.1L433.6,282.8M425.8,260.7L428.3,274.5M428.3,274.5L424.8,271.9M428.3,274.5L430.8,270.8M425.8,246.6L423.0,260.3M423.0,260.3L420.6,256.6M423.0,260.3L426.6,257.8M425.8,232.4L419.7,245.0M419.7,245.0L418.3,240.8M419.7,245.0L423.8,243.5M425.8,218.2L418.5,230.2M418.5,230.2L417.6,225.9M418.5,230.2L422.8,229.1M425.8,203.9L418.7,216.0M418.7,216.0L417.7,211.7M418.7,216.0L422.9,214.8M425.8,189.5L418.9,201.7M418.9,201.7L417.8,197.4M418.9,201.7L423.1,200.4M425.8,175.0L418.4,186.9M418.4,186.9L417.5,182.6M418.4,186.9L422.7,185.8M425.8,160.4L418.0,172.1M418.0,172.1L417.2,167.7M418.0,172.1L422.3,171.1M425.8,145.8L417.5,157.0M417.5,157.0L416.9,152.6M417.5,157.0L421.8,156.3M425.8,131.0L416.9,141.8M416.9,141.8L416.6,137.4M416.9,141.8L421.3,141.3M425.8,116.0L416.6,126.5M416.6,126.5L416.4,122.1M416.6,126.5L420.9,126.2M439.4,466.6L425.5,465.2M425.5,465.2L428.9,462.5M425.5,465.2L428.3,468.6M439.4,453.0L425.9,449.3M425.9,449.3L429.8,447.2M425.9,449.3L428.1,453.1M439.4,439.5L426.8,433.4M426.8,433.4L430.9,432.0M426.8,433.4L428.3,437.6M439.4,425.9L426.8,419.8M426.8,419.8L430.9,418.5M426.8,419.8L428.3,424.0M439.4,412.3L426.9,406.0M426.9,406.0L431.1,404.7M426.9,406.0L428.3,410.1M439.4,398.7L428.5,389.8M428.5,389.8L432.9,389.5M428.5,389.8L429.1,394.2M439.4,385.0L441.8,371.2M441.8,371.2L444.3,374.9M441.8,371.2L438.2,373.8M439.4,371.4L449.5,361.7M449.5,361.7L449.3,366.1M449.5,361.7L445.1,361.7M439.4,357.7L449.8,348.3M449.8,348.3L449.5,352.7M449.8,348.3L445.4,348.2M439.4,344.0L450.3,335.1M450.3,335.1L449.7,339.5M450.3,335.1L445.9,334.8M439.4,330.2L451.8,323.7M451.8,323.7L450.4,327.8M451.8,323.7L447.6,322.4M439.4,316.4L453.2,313.9M453.2,313.9L450.6,317.5M453.2,313.9L449.5,311.5M439.4,288.7L450.2,297.6M450.2,297.6L445.8,297.9M450.2,297.6L449.7,293.2M439.4,274.7L445.9,287.1M445.9,287.1L441.7,285.7M445.9,287.1L447.1,282.9M439.4,260.7L441.5,274.5M441.5,274.5L438.0,271.9M441.5,274.5L444.0,270.9M439.4,232.4L433.4,245.1M433.4,245.1L432.0,240.9M433.4,245.1L437.5,243.6M439.4,218.2L432.7,230.5M432.7,230.5L431.5,226.3M432.7,230.5L436.9,229.2M439.4,203.9L432.5,216.1M432.5,216.1L431.4,211.8M432.5,216.1L436.7,214.8M439.4,189.5L432.5,201.7M432.5,201.7L431.4,197.4M432.5,201.7L436.7,200.4M439.4,175.0L432.8,187.4M432.8,187.4L431.6,183.1M432.8,187.4L436.9,186.0M439.4,160.4L432.4,172.6M432.4,172.6L431.3,168.3M432.4,172.6L436.6,171.4M439.4,145.8L430.7,156.7M430.7,156.7L430.2,152.3M430.7,156.7L435.0,156.1M439.4,131.0L430.3,141.6M430.3,141.6L430.0,137.2M430.3,141.6L434.6,141.2M439.4,116.0L429.9,126.4M429.9,126.4L429.8,122.0M429.9,126.4L434.3,126.1M439.4,101.0L429.7,111.1M429.7,111.1L429.7,106.7M429.7,111.1L434.0,110.9M453.0,466.6L439.1,468.1M439.1,468.1L441.9,464.8M439.1,468.1L442.5,470.8M453.0,439.5L439.1,437.9M439.1,437.9L442.5,435.2M439.1,437.9L441.9,441.3M453.0,425.9L439.4,422.3M439.4,422.3L443.3,420.1M439.4,422.3L441.7,426.1M453.0,412.3L439.6,408.2M439.6,408.2L443.5,406.2M439.6,408.2L441.7,412.0M453.0,398.7L439.8,394.0M439.8,394.0L443.8,392.1M439.8,394.0L441.7,397.9M453.0,385.0L449.3,371.5M449.3,371.5L453.0,373.8M449.3,371.5L447.1,375.4M453.0,371.4L462.1,360.8M462.1,360.8L462.4,365.1M462.1,360.8L457.7,361.2M453.0,357.7L463.1,348.0M463.1,348.0L462.9,352.4M463.1,348.0L458.7,348.0M453.0,344.0L463.3,334.6M463.3,334.6L463.1,339.0M463.3,334.6L458.9,334.4M453.0,330.2L464.7,322.6M464.7,322.6L463.7,326.9M464.7,322.6L460.4,321.7M453.0,316.4L466.6,313.1M466.6,313.1L464.2,316.8M466.6,313.1L462.8,310.9M453.0,302.6L466.7,305.4M466.7,305.4L462.9,307.8M466.7,305.4L464.2,301.8M453.0,203.9L443.1,213.8M443.1,213.8L443.2,209.4M443.1,213.8L447.5,213.7M453.0,189.5L443.8,200.1M443.8,200.1L443.6,195.7M443.8,200.1L448.2,199.7M453.0,175.0L444.5,186.2M444.5,186.2L444.0,181.8M444.5,186.2L448.8,185.5M453.0,160.4L444.5,171.6M444.5,171.6L444.0,167.2M444.5,171.6L448.9,170.9M453.0,101.0L443.0,110.9M443.0,110.9L443.1,106.5M443.0,110.9L447.4,110.8M453.0,85.8L442.7,95.4M442.7,95.4L443.0,91.0M442.7,95.4L447.1,95.5M453.0,70.5L442.5,79.9M442.5,79.9L442.9,75.5M442.5,79.9L446.9,80.0M466.5,466.6L453.3,471.3M453.3,471.3L455.3,467.3M453.3,471.3L457.3,473.1M466.5,439.5L452.7,441.8M452.7,441.8L455.3,438.3M452.7,441.8L456.4,444.3M466.5,425.9L452.6,424.6M452.6,424.6L456.0,421.8M452.6,424.6L455.5,427.9M466.5,412.3L452.8,409.4M452.8,409.4L456.6,407.0M452.8,409.4L455.3,413.0M466.5,398.7L453.0,394.9M453.0,394.9L456.9,392.8M453.0,394.9L455.3,398.7M466.5,385.0L455.8,376.1M455.8,376.1L460.1,375.8M455.8,376.1L456.2,380.5M466.5,357.7L475.4,346.9M475.4,346.9L475.8,351.3M475.4,346.9L471.1,347.4M466.5,344.0L476.5,334.1M476.5,334.1L476.4,338.5M476.5,334.1L472.1,334.2M466.5,330.2L478.2,322.5M478.2,322.5L477.3,326.8M478.2,322.5L473.9,321.7M466.5,316.4L480.3,314.1M480.3,314.1L477.7,317.6M480.3,314.1L476.7,311.6M466.5,302.6L479.4,308.1M479.4,308.1L475.3,309.6M479.4,308.1L477.7,304.0M466.5,260.7L461.4,273.7M461.4,273.7L459.8,269.7M461.4,273.7L465.4,271.9M466.5,246.6L456.7,256.6M456.7,256.6L456.8,252.2M456.7,256.6L461.1,256.5M466.5,203.9L453.7,209.5M453.7,209.5L455.4,205.5M453.7,209.5L457.8,211.1M466.5,189.5L454.9,197.3M454.9,197.3L455.8,193.0M454.9,197.3L459.2,198.1M466.5,175.0L456.1,184.4M456.1,184.4L456.4,180.0M456.1,184.4L460.5,184.5M466.5,160.4L456.8,170.5M456.8,170.5L456.8,166.1M456.8,170.5L461.2,170.3M466.5,145.8L456.9,155.9M456.9,155.9L456.9,151.5M456.9,155.9L461.3,155.7M466.5,131.0L456.8,141.0M456.8,141.0L456.8,136.6M456.8,141.0L461.2,140.9M466.5,101.0L456.4,110.6M456.4,110.6L456.6,106.2M456.4,110.6L460.8,110.7M466.5,85.8L456.1,95.2M456.1,95.2L456.4,90.8M456.1,95.2L460.5,95.4M466.5,70.5L455.9,79.7M455.9,79.7L456.3,75.3M455.9,79.7L460.3,79.9M466.5,55.1L455.8,64.0M455.8,64.0L456.2,59.7M455.8,64.0L460.1,64.4M480.1,466.6L468.1,473.8M468.1,473.8L469.2,469.5M468.1,473.8L472.4,474.8M480.1,439.5L467.2,444.9M467.2,444.9L468.9,440.9M467.2,444.9L471.3,446.5M480.1,425.9L466.2,427.2M466.2,427.2L469.0,423.9M466.2,427.2L469.6,430.0M480.1,412.3L466.1,411.8M466.1,411.8L469.4,408.8M466.1,411.8L469.2,414.9M480.1,398.7L466.1,397.7M466.1,397.7L469.5,394.9M466.1,397.7L469.1,401.0M480.1,385.0L466.4,382.4M466.4,382.4L470.0,380.0M466.4,382.4L468.9,386.0M480.1,371.4L470.3,361.4M470.3,361.4L474.7,361.5M470.3,361.4L470.3,365.8M480.1,344.0L491.3,335.6M491.3,335.6L490.6,340.0M491.3,335.6L487.0,335.0M480.1,260.7L471.5,271.8M471.5,271.8L471.1,267.4M471.5,271.8L475.9,271.1M480.1,246.6L468.0,253.7M468.0,253.7L469.2,249.5M468.0,253.7L472.3,254.7M480.1,232.4L466.3,234.8M466.3,234.8L468.9,231.2M466.3,234.8L469.9,237.3M480.1,218.2L466.1,217.6M466.1,217.6L469.4,214.7M466.1,217.6L469.2,220.8M480.1,203.9L466.2,205.8M466.2,205.8L469.0,202.3M466.2,205.8L469.8,208.4M480.1,189.5L467.1,194.8M467.1,194.8L468.9,190.8M467.1,194.8L471.2,196.4M480.1,175.0L468.5,182.8M468.5,182.8L469.4,178.5M468.5,182.8L472.8,183.6M480.1,160.4L469.5,169.5M469.5,169.5L469.9,165.1M469.5,169.5L473.8,169.8M480.1,145.8L469.9,155.4M469.9,155.4L470.1,151.0M469.9,155.4L474.3,155.4M480.1,131.0L470.1,140.7M470.1,140.7L470.2,136.3M470.1,140.7L474.5,140.7M480.1,116.0L470.0,125.7M470.0,125.7L470.1,121.3M470.0,125.7L474.4,125.7M480.1,101.0L469.8,110.4M469.8,110.4L470.0,106.0M469.8,110.4L474.2,110.6M480.1,85.8L469.5,95.0M469.5,95.0L469.9,90.6M469.5,95.0L473.9,95.3M480.1,70.5L469.4,79.5M469.4,79.5L469.8,75.2M469.4,79.5L473.8,79.8M480.1,55.1L469.2,63.9M469.2,63.9L469.8,59.6M469.2,63.9L473.6,64.3M480.1,39.5L469.3,48.4M469.3,48.4L469.8,44.0M469.3,48.4L473.6,48.7M493.7,466.6L483.0,475.6M483.0,475.6L483.4,471.3M483.0,475.6L487.4,475.9M493.7,439.5L481.4,446.1M481.4,446.1L482.7,442.0M481.4,446.1L485.6,447.3M493.7,425.9L480.1,429.3M480.1,429.3L482.4,425.6M480.1,429.3L483.9,431.5M493.7,412.3L479.8,414.4M479.8,414.4L482.5,410.9M479.8,414.4L483.4,416.9M493.7,398.7L480.0,401.5M480.0,401.5L482.5,397.8M480.0,401.5L483.7,403.8M493.7,385.0L480.2,389.0M480.2,389.0L482.4,385.1M480.2,389.0L484.1,391.0M493.7,371.4L481.0,377.2M481.0,377.2L482.6,373.1M481.0,377.2L485.1,378.7M493.7,288.7L490.3,302.3M490.3,302.3L488.1,298.4M490.3,302.3L494.1,299.9M493.7,260.7L484.0,270.8M484.0,270.8L484.0,266.4M484.0,270.8L488.4,270.6M493.7,246.6L481.4,253.4M481.4,253.4L482.7,249.1M481.4,253.4L485.7,254.5M493.7,232.4L480.1,235.7M480.1,235.7L482.4,232.0M480.1,235.7L483.8,237.9M493.7,218.2L479.7,219.3M479.7,219.3L482.6,216.0M479.7,219.3L483.1,222.1M493.7,203.9L479.8,205.3M479.8,205.3L482.6,202.0M479.8,205.3L483.2,208.1M493.7,189.5L480.5,194.4M480.5,194.4L482.5,190.4M480.5,194.4L484.6,196.1M493.7,175.0L481.8,182.4M481.8,182.4L482.9,178.1M481.8,182.4L486.1,183.3M493.7,160.4L482.7,169.1M482.7,169.1L483.3,164.8M482.7,169.1L487.1,169.6M493.7,145.8L483.3,155.1M483.3,155.1L483.6,150.8M483.3,155.1L487.7,155.3M493.7,131.0L483.5,140.6M483.5,140.6L483.7,136.2M483.5,140.6L487.9,140.6M493.7,116.0L483.4,125.6M483.4,125.6L483.7,121.2M483.4,125.6L487.8,125.7M493.7,101.0L483.3,110.4M483.3,110.4L483.6,106.0M483.3,110.4L487.7,110.5M493.7,85.8L483.1,95.0M483.1,95.0L483.5,90.6M483.1,95.0L487.5,95.2M493.7,70.5L483.0,79.6M483.0,79.6L483.4,75.2M483.0,79.6L487.4,79.9M493.7,55.1L482.8,63.9M482.8,63.9L483.3,59.6M482.8,63.9L487.2,64.3M493.7,39.5L482.8,48.4M482.8,48.4L483.4,44.0M482.8,48.4L487.2,48.7M507.2,466.6L498.1,477.2M498.1,477.2L497.9,472.8M498.1,477.2L502.5,476.8M507.2,453.0L497.8,463.4M497.8,463.4L497.7,459.0M497.8,463.4L502.2,463.1M507.2,439.5L497.1,449.1M497.1,449.1L497.3,444.7M497.1,449.1L501.5,449.1M507.2,425.9L495.2,432.9M495.2,432.9L496.4,428.7M495.2,432.9L499.4,434.0M507.2,412.3L495.1,419.2M495.1,419.2L496.3,414.9M495.1,419.2L499.3,420.3M507.2,398.7L495.8,406.7M495.8,406.7L496.6,402.4M495.8,406.7L500.1,407.4M507.2,330.2L503.6,343.7M503.6,343.7L501.5,339.9M503.6,343.7L507.4,341.5M507.2,288.7L502.2,301.7M502.2,301.7L500.5,297.7M502.2,301.7L506.2,299.9M507.2,274.7L500.3,286.8M500.3,286.8L499.2,282.6M500.3,286.8L504.5,285.6M507.2,260.7L498.0,271.2M498.0,271.2L497.8,266.8M498.0,271.2L502.4,270.8M507.2,246.6L495.8,254.7M495.8,254.7L496.6,250.4M495.8,254.7L500.2,255.4M507.2,232.4L494.5,238.2M494.5,238.2L496.1,234.1M494.5,238.2L498.6,239.7M507.2,218.2L493.9,222.6M493.9,222.6L496.0,218.7M493.9,222.6L497.9,224.5M507.2,203.9L494.0,208.4M494.0,208.4L496.0,204.5M494.0,208.4L498.0,210.3M507.2,189.5L494.7,195.7M494.7,195.7L496.2,191.6M494.7,195.7L498.9,197.0M507.2,175.0L495.6,182.8M495.6,182.8L496.6,178.5M495.6,182.8L500.0,183.6M507.2,160.4L496.4,169.2M496.4,169.2L496.9,164.9M496.4,169.2L500.7,169.6M507.2,145.8L496.9,155.1M496.9,155.1L497.2,150.8M496.9,155.1L501.3,155.3M507.2,131.0L497.1,140.5M497.1,140.5L497.3,136.2M497.1,140.5L501.5,140.6M507.2,116.0L497.0,125.6M497.0,125.6L497.2,121.2M497.0,125.6L501.4,125.7M507.2,101.0L496.9,110.5M496.9,110.5L497.2,106.1M496.9,110.5L501.3,110.6M507.2,85.8L496.8,95.2M496.8,95.2L497.1,90.8M496.8,95.2L501.2,95.4M507.2,70.5L496.8,79.8M496.8,79.8L497.1,75.5M496.8,79.8L501.2,80.0M507.2,55.1L496.5,64.1M496.5,64.1L497.0,59.7M496.5,64.1L500.9,64.4M507.2,39.5L496.4,48.4M496.4,48.4L496.9,44.0M496.4,48.4L500.8,48.8M520.8,466.6L513.4,478.5M513.4,478.5L512.5,474.2M513.4,478.5L517.7,477.4M520.8,453.0L513.7,465.1M513.7,465.1L512.7,460.8M513.7,465.1L517.9,463.9M520.8,439.5L514.1,451.7M514.1,451.7L512.9,447.5M514.1,451.7L518.3,450.4M520.8,425.9L513.7,437.9M513.7,437.9L512.7,433.7M513.7,437.9L517.9,436.8M520.8,412.3L513.9,424.4M513.9,424.4L512.8,420.2M513.9,424.4L518.1,423.2M520.8,398.7L514.0,410.9M514.0,410.9L512.9,406.6M514.0,410.9L518.2,409.6M520.8,385.0L514.2,397.4M514.2,397.4L513.0,393.1M514.2,397.4L518.4,396.0M520.8,330.2L515.7,343.2M515.7,343.2L514.0,339.2M515.7,343.2L519.7,341.4M520.8,316.4L516.1,329.6M516.1,329.6L514.3,325.6M516.1,329.6L520.0,327.6M520.8,302.6L516.0,315.7M516.0,315.7L514.2,311.7M516.0,315.7L520.0,313.8M520.8,288.7L515.3,301.5M515.3,301.5L513.7,297.4M515.3,301.5L519.4,299.8M520.8,274.7L514.1,287.0M514.1,287.0L512.9,282.7M514.1,287.0L518.3,285.7M520.8,260.7L512.5,272.0M512.5,272.0L511.9,267.6M512.5,272.0L516.9,271.2M520.8,246.6L510.9,256.5M510.9,256.5L511.0,252.1M510.9,256.5L515.3,256.4M520.8,232.4L509.7,240.9M509.7,240.9L510.3,236.5M509.7,240.9L514.0,241.4M520.8,218.2L509.0,225.7M509.0,225.7L510.0,221.4M509.0,225.7L513.3,226.6M520.8,203.9L508.9,211.3M508.9,211.3L510.0,207.0M508.9,211.3L513.2,212.2M520.8,189.5L509.3,197.5M509.3,197.5L510.2,193.2M509.3,197.5L513.6,198.2M520.8,175.0L509.8,183.7M509.8,183.7L510.4,179.3M509.8,183.7L514.2,184.1M520.8,160.4L510.3,169.7M510.3,169.7L510.7,165.3M510.3,169.7L514.7,169.9M520.8,145.8L510.6,155.3M510.6,155.3L510.8,150.9M510.6,155.3L515.0,155.4M520.8,131.0L510.7,140.7M510.7,140.7L510.9,136.3M510.7,140.7L515.1,140.7M520.8,116.0L510.7,125.7M510.7,125.7L510.9,121.3M510.7,125.7L515.1,125.7M520.8,101.0L510.7,110.7M510.7,110.7L510.9,106.3M510.7,110.7L515.1,110.7M520.8,85.8L510.8,95.6M510.8,95.6L510.9,91.2M510.8,95.6L515.2,95.6M520.8,70.5L510.9,80.4M510.9,80.4L511.0,76.0M510.9,80.4L515.3,80.4M520.8,55.1L510.5,64.6M510.5,64.6L510.8,60.2M510.5,64.6L514.9,64.7M520.8,39.5L510.2,48.6M510.2,48.6L510.6,44.3M510.2,48.6L514.6,48.9M534.4,466.6L528.7,479.4M528.7,479.4L527.2,475.2M528.7,479.4L532.7,477.7M534.4,453.0L529.3,466.1M529.3,466.1L527.6,462.0M529.3,466.1L533.3,464.2M534.4,439.5L530.1,452.8M530.1,452.8L528.1,448.8M530.1,452.8L533.9,450.7M534.4,425.9L529.8,439.1M529.8,439.1L527.9,435.1M529.8,439.1L533.7,437.1M534.4,412.3L529.6,425.4M529.6,425.4L527.8,421.4M529.6,425.4L533.6,423.5M534.4,398.7L529.8,411.9M529.8,411.9L527.9,407.9M529.8,411.9L533.7,409.9M534.4,385.0L530.4,398.5M530.4,398.5L528.4,394.6M530.4,398.5L534.3,396.3M534.4,371.4L529.2,384.4M529.2,384.4L527.5,380.3M529.2,384.4L533.2,382.6M534.4,357.7L528.8,370.5M528.8,370.5L527.3,366.4M528.8,370.5L532.9,368.8M534.4,344.0L528.5,356.7M528.5,356.7L527.1,352.5M528.5,356.7L532.6,355.1M534.4,330.2L528.8,343.0M528.8,343.0L527.2,338.9M528.8,343.0L532.8,341.4M534.4,316.4L529.1,329.4M529.1,329.4L527.4,325.3M529.1,329.4L533.1,327.6M534.4,302.6L529.1,315.5M529.1,315.5L527.4,311.4M529.1,315.5L533.1,313.7M534.4,288.7L528.7,301.4M528.7,301.4L527.2,297.3M528.7,301.4L532.8,299.8M534.4,274.7L528.0,287.1M528.0,287.1L526.7,282.9M528.0,287.1L532.1,285.7M534.4,260.7L527.0,272.6M527.0,272.6L526.1,268.3M527.0,272.6L531.3,271.5M534.4,246.6L525.9,257.8M525.9,257.8L525.4,253.4M525.9,257.8L530.3,257.1M534.4,232.4L525.1,242.9M525.1,242.9L524.9,238.5M525.1,242.9L529.5,242.6M534.4,218.2L524.3,227.9M524.3,227.9L524.5,223.5M524.3,227.9L528.7,227.9M534.4,203.9L524.3,213.6M524.3,213.6L524.4,209.2M524.3,213.6L528.7,213.6M534.4,189.5L524.2,199.1M524.2,199.1L524.4,194.7M524.2,199.1L528.6,199.2M534.4,175.0L524.2,184.7M524.2,184.7L524.4,180.3M524.2,184.7L528.6,184.7M534.4,160.4L524.5,170.3M524.5,170.3L524.5,165.9M524.5,170.3L528.9,170.2M534.4,145.8L524.5,155.7M524.5,155.7L524.6,151.3M524.5,155.7L528.9,155.6M534.4,131.0L524.5,140.9M524.5,140.9L524.6,136.5M524.5,140.9L528.9,140.8M534.4,116.0L524.5,125.9M524.5,125.9L524.6,121.5M524.5,125.9L528.9,125.9M534.4,101.0L524.6,111.0M524.6,111.0L524.6,106.6M524.6,111.0L529.0,110.9M534.4,85.8L524.8,96.0M524.8,96.0L524.7,91.6M524.8,96.0L529.2,95.8M534.4,70.5L525.1,81.0M525.1,81.0L524.9,76.6M525.1,81.0L529.5,80.7M534.4,55.1L525.2,65.7M525.2,65.7L525.0,61.3M525.2,65.7L529.6,65.3M534.4,39.5L525.0,49.9M525.0,49.9L524.8,45.5M525.0,49.9L529.4,49.6M548.0,466.6L543.4,479.8M543.4,479.8L541.6,475.9M543.4,479.8L547.3,477.8M548.0,425.9L544.5,439.4M544.5,439.4L542.3,435.6M544.5,439.4L548.3,437.1M548.0,412.3L544.2,425.8M544.2,425.8L542.1,421.9M544.2,425.8L548.0,423.5M548.0,398.7L544.0,412.1M544.0,412.1L542.0,408.2M544.0,412.1L547.8,409.9M548.0,385.0L543.7,398.4M543.7,398.4L541.7,394.4M543.7,398.4L547.6,396.3M548.0,371.4L543.1,384.5M543.1,384.5L541.3,380.5M543.1,384.5L547.1,382.6M548.0,357.7L542.7,370.7M542.7,370.7L541.0,366.6M542.7,370.7L546.7,368.9M548.0,344.0L542.4,356.8M542.4,356.8L540.8,352.7M542.4,356.8L546.4,355.1M548.0,330.2L542.3,343.0M542.3,343.0L540.8,338.9M542.3,343.0L546.4,341.4M548.0,316.4L542.4,329.3M542.4,329.3L540.9,325.1M542.4,329.3L546.5,327.6M548.0,302.6L542.4,315.4M542.4,315.4L540.8,311.3M542.4,315.4L546.4,313.7M548.0,288.7L542.2,301.4M542.2,301.4L540.7,297.3M542.2,301.4L546.3,299.8M548.0,274.7L541.8,287.3M541.8,287.3L540.4,283.1M541.8,287.3L545.9,285.8M548.0,260.7L541.2,272.9M541.2,272.9L540.0,268.7M541.2,272.9L545.4,271.6M548.0,246.6L540.4,258.4M540.4,258.4L539.5,254.1M540.4,258.4L544.7,257.4M548.0,232.4L539.7,243.7M539.7,243.7L539.1,239.4M539.7,243.7L544.0,243.0M548.0,218.2L539.2,229.1M539.2,229.1L538.8,224.7M539.2,229.1L543.5,228.6M548.0,203.9L539.1,214.7M539.1,214.7L538.7,210.3M539.1,214.7L543.4,214.2M548.0,189.5L538.8,200.1M538.8,200.1L538.6,195.7M538.8,200.1L543.2,199.7M548.0,175.0L538.6,185.4M538.6,185.4L538.4,181.0M538.6,185.4L542.9,185.1M548.0,160.4L538.5,170.7M538.5,170.7L538.4,166.3M538.5,170.7L542.9,170.5M548.0,145.8L538.4,156.0M538.4,156.0L538.3,151.6M538.4,156.0L542.8,155.8M548.0,131.0L538.4,141.2M538.4,141.2L538.3,136.8M538.4,141.2L542.8,141.0M548.0,116.0L538.4,126.3M538.4,126.3L538.3,121.9M538.4,126.3L542.8,126.1M548.0,101.0L538.5,111.3M538.5,111.3L538.4,106.9M538.5,111.3L542.9,111.1M548.0,85.8L538.7,96.4M538.7,96.4L538.5,92.0M538.7,96.4L543.1,96.0M548.0,70.5L539.1,81.4M539.1,81.4L538.7,77.0M539.1,81.4L543.5,80.9M548.0,55.1L539.7,66.4M539.7,66.4L539.1,62.0M539.7,66.4L544.0,65.6M548.0,39.5L540.0,51.0M540.0,51.0L539.3,46.7M540.0,51.0L544.3,50.1M561.5,466.6L557.7,480.1M557.7,480.1L555.6,476.2M557.7,480.1L561.5,477.9M561.5,453.0L558.3,466.6M558.3,466.6L556.0,462.9M558.3,466.6L562.0,464.3M561.5,439.5L558.5,453.1M558.5,453.1L556.2,449.4M558.5,453.1L562.2,450.7M561.5,425.9L558.4,439.5M558.4,439.5L556.1,435.8M558.4,439.5L562.1,437.1M561.5,412.3L558.1,425.8M558.1,425.8L555.9,422.0M558.1,425.8L561.8,423.5M561.5,398.7L557.7,412.1M557.7,412.1L555.6,408.2M557.7,412.1L561.5,409.9M561.5,385.0L557.4,398.4M557.4,398.4L555.4,394.5M557.4,398.4L561.2,396.3M561.5,371.4L556.9,384.6M556.9,384.6L555.1,380.6M556.9,384.6L560.9,382.6M561.5,357.7L556.5,370.8M556.5,370.8L554.8,366.7M556.5,370.8L560.5,368.9M561.5,344.0L556.2,356.9M556.2,356.9L554.6,352.8M556.2,356.9L560.2,355.1M561.5,330.2L556.0,343.1M556.0,343.1L554.5,339.0M556.0,343.1L560.1,341.4M561.5,316.4L556.0,329.3M556.0,329.3L554.4,325.1M556.0,329.3L560.1,327.6M561.5,302.6L555.9,315.4M555.9,315.4L554.4,311.2M555.9,315.4L560.0,313.7M561.5,288.7L555.8,301.4M555.8,301.4L554.3,297.3M555.8,301.4L559.9,299.8M561.5,274.7L555.6,287.4M555.6,287.4L554.2,283.2M555.6,287.4L559.7,285.8M561.5,260.7L555.3,273.2M555.3,273.2L554.0,269.0M555.3,273.2L559.4,271.7M561.5,246.6L554.5,258.7M554.5,258.7L553.4,254.4M554.5,258.7L558.7,257.5M561.5,232.4L553.8,244.1M553.8,244.1L553.0,239.8M553.8,244.1L558.1,243.2M561.5,218.2L553.5,229.7M553.5,229.7L552.8,225.4M553.5,229.7L557.8,228.9M561.5,203.9L553.3,215.3M553.3,215.3L552.7,210.9M553.3,215.3L557.7,214.5M561.5,189.5L553.0,200.6M553.0,200.6L552.5,196.3M553.0,200.6L557.4,200.0M561.5,175.0L552.7,185.9M552.7,185.9L552.3,181.5M552.7,185.9L557.1,185.4M561.5,160.4L552.4,171.1M552.4,171.1L552.2,166.7M552.4,171.1L556.8,170.7M561.5,145.8L552.4,156.3M552.4,156.3L552.1,151.9M552.4,156.3L556.7,155.9M561.5,131.0L552.4,141.5M552.4,141.5L552.1,137.1M552.4,141.5L556.7,141.1M561.5,116.0L552.4,126.6M552.4,126.6L552.1,122.2M552.4,126.6L556.8,126.2M561.5,101.0L552.4,111.7M552.4,111.7L552.2,107.3M552.4,111.7L556.8,111.2M561.5,85.8L552.6,96.6M552.6,96.6L552.3,92.2M552.6,96.6L557.0,96.1M561.5,70.5L552.9,81.6M552.9,81.6L552.4,77.2M552.9,81.6L557.3,81.0M561.5,55.1L553.8,66.8M553.8,66.8L553.0,62.5M553.8,66.8L558.1,65.8M561.5,39.5L554.8,51.8M554.8,51.8L553.7,47.6M554.8,51.8L559.0,50.5M575.1,466.6L571.6,480.1M571.6,480.1L569.4,476.3M571.6,480.1L575.3,477.9M575.1,453.0L571.9,466.7M571.9,466.7L569.7,462.9M571.9,466.7L575.6,464.3M575.1,439.5L572.1,453.1M572.1,453.1L569.8,449.4M572.1,453.1L575.8,450.7M575.1,425.9L572.0,439.5M572.0,439.5L569.7,435.8M572.0,439.5L575.7,437.1M575.1,412.3L571.8,425.9M571.8,425.9L569.5,422.1M571.8,425.9L575.5,423.5M575.1,398.7L571.4,412.2M571.4,412.2L569.3,408.3M571.4,412.2L575.2,409.9M575.1,385.0L571.1,398.4M571.1,398.4L569.1,394.5M571.1,398.4L574.9,396.3M575.1,371.4L570.7,384.7M570.7,384.7L568.8,380.7M570.7,384.7L574.6,382.6M575.1,357.7L570.3,370.9M570.3,370.9L568.5,366.8M570.3,370.9L574.3,368.9M575.1,344.0L570.0,357.0M570.0,357.0L568.3,353.0M570.0,357.0L574.0,355.2M575.1,330.2L569.8,343.2M569.8,343.2L568.2,339.1M569.8,343.2L573.9,341.4M575.1,316.4L569.7,329.3M569.7,329.3L568.1,325.2M569.7,329.3L573.7,327.6M575.1,302.6L569.6,315.4M569.6,315.4L568.0,311.3M569.6,315.4L573.6,313.7M575.1,288.7L569.5,301.5M569.5,301.5L567.9,297.3M569.5,301.5L573.5,299.8M575.1,274.7L569.3,287.4M569.3,287.4L567.8,283.3M569.3,287.4L573.4,285.8M575.1,260.7L569.0,273.3M569.0,273.3L567.6,269.1M569.0,273.3L573.1,271.8M575.1,246.6L568.5,258.9M568.5,258.9L567.3,254.7M568.5,258.9L572.6,257.6M575.1,232.4L568.0,244.5M568.0,244.5L566.9,240.2M568.0,244.5L572.2,243.3M575.1,218.2L567.6,230.1M567.6,230.1L566.7,225.8M567.6,230.1L571.9,229.0M575.1,203.9L567.4,215.6M567.4,215.6L566.6,211.3M567.4,215.6L571.7,214.6M575.1,189.5L567.1,201.0M567.1,201.0L566.4,196.6M567.1,201.0L571.4,200.1M575.1,175.0L566.7,186.3M566.7,186.3L566.2,181.9M566.7,186.3L571.1,185.5M575.1,160.4L566.5,171.5M566.5,171.5L566.0,167.1M566.5,171.5L570.8,170.9M575.1,145.8L566.4,156.7M566.4,156.7L565.9,152.3M566.4,156.7L570.7,156.1M575.1,131.0L566.3,141.9M566.3,141.9L565.9,137.5M566.3,141.9L570.7,141.3M575.1,116.0L566.4,127.0M566.4,127.0L565.9,122.6M566.4,127.0L570.7,126.4M575.1,101.0L566.4,112.0M566.4,112.0L566.0,107.6M566.4,112.0L570.8,111.4M575.1,85.8L566.6,96.9M566.6,96.9L566.1,92.6M566.6,96.9L570.9,96.3M575.1,70.5L567.0,81.9M567.0,81.9L566.3,77.6M567.0,81.9L571.3,81.1M575.1,55.1L568.1,67.2M568.1,67.2L567.0,62.9M568.1,67.2L572.3,66.0M575.1,39.5L568.9,52.1M568.9,52.1L567.6,47.9M568.9,52.1L573.1,50.6" stroke="#000080" stroke-width="1" fill="none" shape-rendering="crispEdges"/>
<path d="M168.5,36L168.5,467M236.5,36L236.5,467M304.5,36L304.5,467M372.5,36L372.5,467M440.5,36L440.5,467M507.5,36L507.5,467M153,397.5L577,397.5M153,329.5L577,329.5M153,260.5L577,260.5M153,188.5L577,188.5M153,115.5L577,115.5" stroke="#000000" stroke-width="1" fill="none" shape-rendering="crispEdges"/>
<path d="M467,36h1v2h-1zM469,33h3v2h-3zM468,35h1v1h-1zM467,39h1v1h-1zM471,38h1v1h-1zM469,39h2v2h-2zM468,38h1v1h-1zM470,39h3v1h-3zM468,39h3v2h-3zM465,38h1v2h-1zM469,41h2v1h-2zM468,41h2v2h-2zM468,45h3v1h-3zM467,45h3v2h-3zM467,41h2v2h-2zM468,39h2v2h-2zM462,44h2v1h-2zM465,44h1v2h-1zM462,47h3v1h-3zM461,45h1v1h-1zM465,47h2v1h-2zM462,48h2v2h-2zM459,46h2v1h-2zM461,48h1v2h-1zM461,47h1v1h-1zM463,47h3v2h-3zM459,52h2v1h-2zM463,46h3v2h-3zM461,47h1v2h-1zM464,49h3v2h-3zM463,48h1v2h-1zM460,47h1v1h-1zM459,53h3v1h-3zM463,47h2v1h-2zM461,51h3v2h-3zM460,50h3v1h-3zM458,52h1v1h-1zM459,50h3v2h-3zM462,53h3v2h-3zM458,53h2v2h-2zM463,50h2v2h-2zM462,51h2v1h-2zM460,57h1v2h-1zM460,53h3v2h-3zM459,54h2v1h-2zM462,56h2v1h-2zM462,53h1v1h-1zM462,57h2v1h-2zM462,60h2v1h-2zM457,59h3v2h-3zM457,59h2v2h-2zM458,66h1v2h-1zM454,66h2v2h-2zM454,64h2v2h-2zM455,65h2v2h-2zM458,62h2v1h-2zM458,66h1v2h-1zM453,63h3v1h-3zM452,67h1v1h-1zM451,68h2v2h-2zM454,68h1v2h-1zM452,70h2v2h-2zM451,70h1v1h-1zM450,72h2v1h-2zM451,76h1v2h-1zM449,73h1v1h-1zM448,72h1v2h-1zM445,76h2v1h-2zM446,73h1v1h-1zM447,79h3v1h-3zM450,75h2v1h-2zM445,76h3v2h-3zM446,79h3v1h-3zM444,74h3v1h-3zM448,79h2v1h-2zM445,78h2v1h-2zM447,75h1v1h-1zM446,81h1v1h-1zM446,76h3v2h-3zM446,79h3v2h-3zM443,83h1v1h-1zM446,83h2v1h-2zM443,84h2v2h-2zM446,84h2v2h-2zM447,86h2v1h-2zM444,86h3v1h-3zM446,81h2v1h-2zM441,85h3v2h-3zM445,83h1v2h-1zM444,83h3v1h-3zM444,84h2v1h-2zM440,87h1v2h-1zM443,84h1v1h-1zM440,87h2v1h-2zM441,85h2v2h-2zM442,90h2v2h-2zM438,87h2v1h-2zM439,87h2v2h-2zM439,87h3v1h-3zM435,85h2v1h-2zM440,88h1v1h-1zM438,88h1v1h-1zM440,88h3v2h-3zM439,88h2v2h-2zM439,89h1v2h-1zM437,88h3v2h-3zM438,88h1v1h-1zM435,87h2v2h-2zM435,88h1v1h-1zM438,95h2v2h-2zM435,89h1v1h-1zM437,90h2v1h-2zM436,95h1v1h-1zM435,92h1v2h-1zM435,95h2v2h-2zM433,94h2v1h-2zM432,95h1v2h-1zM436,97h2v1h-2zM436,98h1v1h-1zM436,94h3v1h-3zM432,97h3v1h-3zM435,97h2v1h-2zM436,100h2v2h-2zM433,99h2v2h-2zM432,100h2v1h-2zM434,100h3v2h-3zM433,98h3v1h-3zM433,102h2v1h-2zM434,98h1v1h-1zM436,99h1v1h-1zM435,100h2v2h-2zM433,101h1v1h-1zM432,102h2v2h-2zM431,102h3v2h-3zM436,105h2v2h-2zM434,106h1v1h-1zM434,104h1v1h-1zM430,103h2v2h-2zM430,108h2v2h-2zM428,107h3v1h-3zM431,108h2v1h-2zM428,106h1v1h-1zM429,106h1v2h-1zM430,105h2v1h-2zM430,109h2v1h-2zM429,112h3v1h-3zM426,106h2v2h-2zM429,110h1v1h-1zM427,107h1v2h-1zM424,109h2v1h-2zM426,109h1v1h-1zM427,113h1v1h-1zM427,109h3v1h-3zM424,109h3v1h-3zM425,108h3v1h-3zM425,112h1v1h-1zM422,111h2v2h-2zM423,112h2v2h-2zM422,113h3v2h-3zM427,115h3v2h-3zM422,116h1v1h-1zM420,114h3v1h-3zM421,113h2v2h-2zM426,116h2v1h-2zM422,116h3v1h-3zM419,113h3v2h-3zM422,114h1v1h-1zM424,119h2v2h-2zM420,116h3v1h-3zM419,116h1v2h-1zM424,117h2v1h-2zM423,118h1v2h-1zM421,118h3v1h-3zM417,122h1v1h-1zM423,117h1v1h-1zM418,117h2v2h-2zM419,117h2v1h-2zM418,118h1v2h-1zM417,120h2v2h-2zM418,123h1v1h-1zM418,119h1v2h-1zM418,124h2v1h-2zM415,118h2v2h-2zM420,122h2v1h-2zM413,120h2v2h-2zM416,123h2v1h-2zM414,120h2v1h-2zM418,123h1v1h-1zM415,125h3v1h-3zM414,124h3v2h-3zM414,124h2v2h-2zM415,121h1v2h-1zM410,120h2v1h-2zM412,122h2v1h-2zM415,124h1v1h-1zM415,125h3v2h-3zM413,128h1v1h-1zM412,125h1v2h-1zM412,129h2v2h-2zM408,129h3v2h-3zM408,132h3v1h-3zM408,128h1v1h-1zM408,128h1v2h-1zM407,129h1v1h-1zM410,129h1v2h-1zM408,131h1v1h-1zM409,130h2v1h-2zM406,130h2v2h-2zM408,129h1v1h-1zM407,128h1v2h-1zM406,130h1v1h-1zM405,132h2v2h-2zM407,135h2v1h-2zM408,133h2v1h-2zM404,133h1v1h-1zM404,136h1v2h-1zM404,132h2v2h-2zM403,138h1v1h-1zM403,133h2v1h-2zM405,136h2v1h-2zM400,135h2v2h-2zM403,139h3v2h-3zM403,135h2v2h-2zM401,137h3v2h-3zM395,135h2v1h-2zM397,138h1v2h-1zM401,137h1v2h-1zM396,137h1v1h-1zM395,140h2v1h-2zM396,137h1v1h-1zM394,137h1v1h-1zM392,138h2v1h-2zM396,141h2v2h-2zM398,140h1v1h-1zM395,138h1v2h-1zM391,137h3v1h-3zM390,141h2v2h-2zM395,142h1v2h-1zM392,139h2v1h-2zM393,142h2v1h-2zM391,144h2v1h-2zM393,146h2v2h-2zM388,141h2v2h-2zM392,146h3v2h-3zM386,143h1v2h-1zM387,143h1v1h-1zM391,144h1v1h-1zM388,142h2v1h-2zM385,146h2v1h-2zM383,143h1v1h-1zM385,146h3v1h-3zM387,147h1v1h-1zM386,148h2v1h-2zM384,149h2v1h-2zM384,147h3v1h-3zM383,145h1v2h-1zM385,144h2v2h-2zM385,144h1v2h-1zM381,148h2v1h-2zM382,144h1v2h-1zM382,145h1v1h-1zM380,146h1v2h-1zM375,147h1v2h-1zM380,147h1v2h-1zM379,146h3v2h-3zM377,146h3v2h-3zM373,151h2v1h-2zM376,149h1v1h-1zM377,150h2v2h-2zM377,150h2v1h-2zM375,146h2v1h-2zM371,147h3v1h-3zM374,148h1v1h-1zM375,151h1v1h-1zM372,150h2v2h-2zM369,150h1v1h-1zM369,150h1v2h-1zM366,150h2v1h-2zM365,151h2v1h-2zM367,149h3v2h-3zM367,152h2v2h-2zM362,152h3v2h-3zM360,153h2v2h-2zM360,152h2v2h-2zM364,153h3v2h-3zM364,151h2v1h-2zM361,157h1v1h-1zM361,157h2v1h-2zM359,155h1v1h-1zM358,156h2v1h-2zM359,152h3v1h-3zM361,152h1v1h-1zM356,154h2v1h-2zM359,158h3v2h-3zM356,155h3v2h-3zM358,157h1v2h-1zM353,150h2v2h-2zM355,152h2v2h-2zM352,151h2v2h-2zM353,147h3v2h-3zM355,142h2v2h-2zM354,144h2v1h-2zM353,147h3v1h-3zM353,145h2v1h-2zM351,141h2v1h-2zM353,142h2v1h-2zM354,142h2v2h-2zM353,141h2v1h-2zM348,142h1v2h-1zM352,145h1v2h-1zM349,143h2v1h-2zM351,143h2v2h-2zM353,141h1v1h-1zM351,149h3v1h-3zM348,143h1v2h-1zM352,146h3v1h-3zM347,151h2v2h-2zM351,148h1v1h-1zM353,148h1v1h-1zM348,152h2v1h-2zM347,148h1v1h-1zM347,147h3v2h-3zM349,153h3v2h-3zM352,153h3v1h-3zM348,155h1v1h-1zM351,151h3v1h-3zM346,154h1v1h-1zM344,154h1v2h-1zM346,158h1v1h-1zM345,159h1v1h-1zM345,158h1v1h-1zM343,158h1v1h-1zM342,159h2v2h-2zM341,159h3v1h-3zM339,159h1v2h-1zM337,161h2v1h-2zM337,162h1v2h-1zM339,161h1v2h-1zM338,160h2v2h-2zM331,163h1v1h-1zM333,163h1v2h-1zM329,164h3v2h-3zM327,162h1v1h-1zM329,164h2v1h-2zM327,162h1v2h-1zM327,164h3v2h-3zM327,163h1v1h-1zM324,165h1v2h-1zM320,167h1v1h-1zM320,169h3v2h-3zM317,167h2v2h-2zM318,168h2v1h-2zM315,168h3v2h-3zM311,168h1v1h-1zM310,171h3v2h-3zM307,174h3v2h-3zM309,176h3v2h-3zM311,178h1v1h-1zM309,180h1v2h-1zM313,182h2v2h-2zM312,183h1v2h-1zM308,185h2v1h-2zM310,186h2v1h-2zM306,184h1v1h-1zM307,182h2v1h-2zM303,180h1v1h-1zM305,181h3v1h-3zM305,181h1v1h-1zM304,179h1v2h-1zM301,176h1v2h-1zM301,172h2v1h-2zM303,168h2v2h-2zM304,167h1v2h-1zM301,168h2v2h-2zM303,170h3v2h-3zM296,164h1v1h-1zM297,166h1v1h-1zM297,164h2v2h-2zM297,166h1v1h-1zM297,165h1v1h-1zM293,164h3v2h-3zM293,166h2v1h-2zM284,164h1v2h-1zM285,162h1v1h-1zM288,164h1v1h-1zM285,164h1v1h-1zM282,162h3v2h-3zM282,164h2v1h-2zM277,164h3v1h-3zM276,169h2v2h-2zM272,168h1v2h-1zM268,172h1v2h-1zM269,174h1v1h-1zM269,173h2v2h-2zM267,172h1v1h-1zM271,174h2v1h-2zM270,175h2v2h-2zM264,173h3v1h-3zM268,172h2v2h-2zM261,173h1v1h-1zM261,175h2v1h-2zM263,173h1v2h-1zM258,177h2v1h-2zM260,177h2v1h-2zM260,173h1v2h-1zM256,176h1v2h-1zM261,181h2v2h-2zM260,178h2v2h-2zM255,179h1v2h-1zM260,179h1v2h-1zM254,183h3v2h-3zM256,181h3v2h-3zM253,183h1v2h-1zM256,185h1v2h-1zM254,187h2v2h-2zM251,184h2v1h-2zM252,187h1v2h-1zM217,318h2v1h-2zM218,317h1v1h-1zM213,313h2v1h-2zM216,312h3v1h-3zM213,310h2v2h-2zM211,310h1v1h-1zM210,308h3v2h-3zM206,304h1v2h-1zM205,302h1v1h-1zM206,304h3v1h-3zM203,303h2v1h-2zM205,300h2v2h-2zM203,300h3v2h-3zM201,303h2v1h-2zM204,300h2v1h-2zM199,295h1v2h-1zM196,296h1v1h-1zM194,435h3v1h-3zM193,431h2v1h-2zM190,427h3v2h-3zM189,429h3v1h-3zM191,427h3v1h-3zM189,423h3v2h-3zM186,423h2v1h-2zM183,416h2v2h-2zM178,411h1v2h-1zM177,406h2v2h-2zM177,409h3v2h-3zM176,403h1v1h-1zM175,399h2v1h-2zM176,390h2v2h-2zM175,389h3v2h-3zM172,388h3v1h-3zM172,389h1v1h-1zM175,387h2v2h-2zM170,383h1v2h-1zM173,384h1v2h-1zM171,380h2v1h-2zM172,381h2v2h-2zM174,381h1v2h-1zM168,378h2v2h-2zM166,372h2v1h-2zM162,366h1v1h-1zM159,363h1v1h-1zM161,362h2v2h-2zM160,360h2v2h-2zM184,440h2v1h-2zM190,443h1v2h-1zM189,440h2v1h-2zM192,442h3v1h-3zM199,449h3v1h-3zM197,447h2v1h-2zM199,449h1v1h-1zM200,446h3v1h-3zM207,452h2v2h-2zM204,451h2v1h-2zM209,456h2v2h-2zM207,451h2v1h-2zM209,457h2v2h-2zM212,455h2v2h-2zM213,456h1v2h-1zM216,461h2v1h-2zM217,459h2v1h-2zM220,464h3v2h-3zM217,467h2v1h-2zM378,395h3v2h-3zM377,391h2v1h-2zM380,394h3v1h-3zM377,394h3v2h-3zM377,391h2v2h-2zM380,390h2v1h-2zM381,390h2v1h-2zM379,393h2v1h-2zM380,392h3v1h-3zM381,392h1v2h-1zM379,391h1v2h-1zM381,390h1v1h-1zM386,386h1v2h-1zM386,384h3v2h-3zM388,381h1v2h-1zM390,383h2v1h-2zM390,382h3v1h-3zM387,383h2v2h-2zM395,380h2v1h-2zM393,377h1v2h-1zM394,378h2v1h-2zM393,378h1v1h-1zM394,375h1v1h-1zM395,370h2v2h-2zM397,371h2v1h-2zM402,368h2v1h-2zM402,368h2v1h-2zM402,373h2v1h-2zM403,374h2v2h-2zM405,373h1v2h-1zM403,373h1v1h-1zM407,374h2v2h-2zM407,378h2v2h-2zM408,374h1v2h-1zM413,383h2v2h-2zM411,384h1v1h-1zM410,384h2v2h-2zM413,382h1v2h-1zM410,385h1v1h-1zM415,385h2v2h-2zM414,388h3v1h-3zM413,388h2v1h-2zM413,387h1v1h-1zM417,388h2v1h-2zM420,389h2v1h-2zM421,390h1v2h-1zM425,392h1v1h-1zM425,389h1v2h-1zM423,393h1v1h-1zM424,392h3v2h-3zM427,392h2v1h-2zM428,392h3v1h-3zM427,395h2v2h-2zM426,393h3v1h-3zM426,398h1v1h-1zM426,396h1v1h-1zM422,401h3v2h-3zM418,400h3v2h-3zM420,401h1v1h-1zM419,403h2v1h-2zM417,400h3v1h-3zM418,403h1v1h-1zM411,408h1v2h-1zM411,407h2v1h-2zM408,410h1v1h-1zM407,411h2v1h-2zM406,409h3v1h-3zM406,410h2v1h-2zM409,412h2v1h-2zM408,412h1v1h-1zM405,414h1v1h-1zM404,416h1v1h-1zM405,421h1v2h-1zM407,422h1v2h-1zM412,425h1v1h-1zM410,426h2v2h-2zM412,429h3v2h-3zM411,428h1v1h-1zM411,431h2v1h-2zM409,436h2v1h-2zM414,439h3v2h-3zM414,440h1v1h-1zM415,441h1v1h-1zM415,442h1v1h-1zM417,444h2v2h-2zM419,446h2v2h-2zM417,448h3v1h-3zM419,450h2v2h-2zM424,452h1v1h-1zM426,451h3v1h-3zM425,450h2v2h-2zM424,454h1v1h-1zM424,455h1v2h-1zM422,452h3v2h-3zM417,452h1v2h-1zM418,452h1v2h-1zM417,453h1v2h-1zM415,451h2v2h-2zM413,451h1v2h-1zM412,455h2v2h-2zM409,457h1v2h-1zM411,457h3v1h-3zM409,456h2v2h-2zM408,458h2v1h-2zM412,458h2v1h-2zM410,463h1v2h-1zM406,464h2v2h-2zM407,466h2v1h-2zM408,468h1v1h-1zM409,468h3v2h-3zM401,356h2v1h-2zM401,355h3v1h-3zM401,355h3v2h-3zM401,355h3v1h-3zM403,352h2v1h-2zM404,351h2v2h-2zM407,348h1v1h-1zM407,345h1v2h-1zM407,345h2v1h-2zM410,344h3v1h-3zM411,344h2v1h-2zM413,341h2v1h-2zM413,342h3v1h-3zM413,341h1v2h-1zM416,342h2v2h-2zM417,341h1v2h-1zM419,335h2v2h-2zM419,335h1v1h-1zM423,332h1v1h-1zM424,332h2v2h-2zM426,328h2v1h-2zM426,329h1v1h-1zM426,328h2v1h-2zM427,327h3v2h-3zM429,326h2v1h-2zM429,323h2v1h-2zM430,323h1v2h-1zM430,324h1v1h-1zM431,323h3v2h-3zM430,324h1v2h-1zM430,323h3v1h-3zM433,319h2v2h-2zM432,315h1v2h-1zM434,312h3v2h-3zM438,315h3v1h-3zM437,313h2v1h-2zM436,317h3v2h-3zM438,319h3v2h-3zM437,323h2v1h-2zM434,322h2v1h-2zM434,324h2v2h-2zM436,322h1v1h-1zM433,325h2v1h-2zM432,330h3v2h-3zM428,333h2v1h-2zM427,334h1v2h-1zM426,335h1v1h-1zM421,339h2v1h-2zM419,343h2v2h-2zM414,344h3v1h-3zM417,345h2v2h-2zM414,346h1v1h-1zM414,348h1v1h-1zM410,349h1v2h-1zM406,356h3v1h-3zM404,357h1v2h-1zM405,357h3v1h-3zM403,357h3v2h-3zM404,359h3v2h-3zM400,360h1v2h-1zM402,360h1v2h-1zM403,360h2v2h-2zM399,359h2v1h-2zM471,269h3v2h-3zM472,270h1v1h-1zM473,272h1v1h-1zM477,272h3v1h-3zM476,272h1v2h-1zM474,272h2v1h-2zM474,271h1v1h-1zM479,272h2v2h-2zM477,273h3v2h-3zM480,272h2v2h-2zM481,272h2v1h-2zM482,271h3v1h-3zM483,272h3v1h-3zM479,274h2v1h-2zM480,275h1v2h-1zM484,272h2v2h-2zM481,274h2v2h-2zM484,276h2v1h-2zM489,277h3v1h-3zM489,276h3v2h-3zM488,273h2v1h-2zM492,274h1v2h-1zM490,273h1v2h-1zM495,274h1v2h-1zM495,276h2v2h-2zM493,277h2v1h-2zM493,276h3v1h-3zM493,277h1v1h-1zM490,278h2v2h-2zM490,282h1v1h-1zM493,284h2v2h-2zM491,286h2v1h-2zM492,287h1v2h-1zM493,290h1v2h-1zM494,288h1v1h-1zM492,288h1v2h-1zM492,290h1v1h-1zM494,288h1v2h-1zM491,289h2v2h-2zM491,294h3v2h-3zM493,295h2v2h-2zM489,292h1v2h-1zM490,293h2v2h-2zM487,293h1v2h-1zM490,293h2v1h-2zM489,291h1v1h-1zM490,292h1v2h-1zM489,291h3v1h-3zM491,292h2v2h-2zM488,291h2v1h-2zM489,290h2v1h-2zM489,287h2v2h-2zM487,286h1v1h-1zM485,282h1v2h-1zM484,283h1v1h-1zM482,280h1v2h-1zM479,278h3v1h-3zM477,277h1v2h-1zM477,279h3v1h-3zM476,277h2v2h-2zM473,276h1v2h-1zM469,274h1v2h-1zM466,275h3v1h-3zM464,278h3v2h-3zM464,279h1v1h-1zM466,278h1v1h-1zM464,278h2v1h-2zM463,278h3v1h-3zM464,279h3v1h-3zM461,280h3v1h-3zM461,280h1v1h-1zM461,278h1v1h-1zM456,279h1v2h-1zM456,280h1v2h-1zM455,280h1v2h-1zM455,277h2v1h-2zM454,279h1v2h-1zM454,279h3v2h-3zM450,274h1v1h-1zM452,273h3v1h-3zM451,276h1v2h-1zM448,272h3v1h-3zM445,272h2v1h-2zM446,269h1v1h-1zM447,267h1v1h-1zM442,264h3v2h-3zM443,264h3v2h-3zM442,265h3v2h-3zM444,264h2v2h-2zM441,263h3v2h-3zM442,263h3v2h-3zM444,260h3v2h-3zM443,262h1v1h-1zM440,258h1v2h-1zM444,258h2v1h-2zM442,258h2v2h-2zM440,255h2v1h-2zM441,253h2v2h-2zM461,258h3v2h-3zM462,254h2v1h-2zM464,259h3v1h-3zM463,263h2v1h-2zM467,265h2v2h-2zM469,264h2v2h-2zM465,267h2v2h-2zM465,261h2v1h-2zM468,263h2v2h-2zM473,269h1v1h-1zM472,268h2v2h-2zM449,208h2v2h-2zM452,208h1v2h-1zM452,207h3v2h-3zM458,208h3v2h-3zM457,210h3v2h-3zM464,213h2v1h-2zM468,212h2v2h-2zM468,212h2v1h-2zM471,210h2v1h-2zM471,210h2v1h-2zM472,214h1v1h-1zM473,215h3v2h-3zM472,216h2v2h-2zM471,217h1v1h-1zM473,222h1v2h-1zM472,224h2v1h-2zM473,225h3v2h-3zM473,228h2v2h-2zM472,234h2v1h-2zM469,240h2v1h-2zM468,243h3v1h-3zM465,245h2v2h-2zM465,245h2v2h-2zM461,249h1v1h-1zM460,256h3v2h-3zM460,257h2v1h-2zM461,260h1v1h-1zM461,259h1v1h-1zM449,281h1v2h-1zM449,281h3v1h-3zM449,280h2v2h-2zM452,280h1v1h-1zM452,279h1v1h-1zM452,281h2v1h-2zM454,279h3v1h-3zM453,281h2v1h-2zM455,282h1v1h-1zM457,283h2v2h-2zM459,282h1v2h-1zM457,285h1v1h-1zM460,286h2v1h-2zM459,286h1v1h-1zM460,286h1v1h-1zM459,287h1v1h-1zM459,287h2v1h-2zM459,291h3v1h-3zM458,293h1v1h-1zM459,294h2v1h-2zM458,293h1v2h-1zM456,296h3v1h-3zM455,299h3v1h-3zM452,295h2v1h-2zM450,289h3v1h-3zM449,287h2v1h-2zM450,285h1v1h-1zM447,287h2v2h-2zM447,283h1v2h-1zM446,284h1v1h-1zM446,285h1v1h-1zM448,283h1v1h-1zM448,281h3v1h-3zM448,280h2v2h-2zM499,295h3v2h-3zM499,297h1v2h-1zM499,296h1v1h-1zM504,296h2v2h-2zM504,295h1v1h-1zM505,293h1v1h-1zM511,294h3v2h-3zM513,297h2v2h-2zM512,299h2v2h-2zM513,297h2v1h-2zM516,300h1v1h-1zM514,308h3v1h-3zM515,311h2v2h-2zM513,311h2v1h-2zM514,311h1v1h-1zM513,310h2v1h-2zM512,310h2v1h-2zM512,312h1v2h-1zM512,310h3v2h-3zM510,308h1v1h-1zM510,308h3v2h-3zM505,303h2v1h-2zM504,302h1v1h-1zM500,300h1v1h-1zM499,299h1v2h-1zM500,299h2v2h-2zM498,296h3v1h-3zM499,297h1v1h-1zM503,310h2v1h-2zM504,310h2v1h-2zM506,311h1v2h-1zM507,309h3v1h-3zM508,310h1v2h-1zM510,314h1v2h-1zM508,311h3v2h-3zM510,313h1v1h-1zM510,315h3v1h-3zM510,313h2v1h-2zM511,317h1v1h-1zM508,318h1v2h-1zM510,321h1v1h-1zM510,324h1v2h-1zM510,324h1v2h-1zM512,325h1v2h-1zM507,326h1v1h-1zM506,325h2v2h-2zM507,323h1v2h-1zM507,321h3v2h-3zM507,320h3v1h-3zM504,320h1v1h-1zM506,317h1v1h-1zM506,317h3v1h-3zM504,319h3v1h-3zM504,315h1v1h-1zM504,313h1v1h-1zM504,309h2v2h-2zM502,310h2v1h-2zM467,303h2v1h-2zM468,304h1v1h-1zM471,301h2v1h-2zM470,303h1v1h-1zM471,304h1v1h-1zM472,302h1v2h-1zM473,302h2v2h-2zM472,302h1v1h-1zM476,303h1v1h-1zM475,301h1v1h-1zM480,303h2v1h-2zM481,304h2v2h-2zM481,304h1v1h-1zM482,308h2v1h-2zM483,310h2v1h-2zM482,310h1v2h-1zM481,312h1v2h-1zM478,311h2v2h-2zM478,312h2v1h-2zM478,314h2v1h-2zM474,320h1v2h-1zM472,321h2v1h-2zM472,320h1v1h-1zM469,321h2v1h-2zM470,322h2v2h-2zM469,319h1v1h-1zM467,318h2v1h-2zM469,320h2v1h-2zM469,318h2v2h-2zM469,319h1v1h-1zM468,319h3v1h-3zM467,315h2v2h-2zM467,316h1v1h-1zM469,314h1v1h-1zM469,312h2v1h-2zM466,306h1v2h-1zM466,304h1v1h-1zM484,315h2v2h-2zM484,316h2v2h-2zM486,316h1v2h-1zM486,316h3v1h-3zM487,316h2v2h-2zM486,318h2v2h-2zM486,320h1v2h-1zM485,320h2v1h-2zM486,322h3v2h-3zM486,324h1v2h-1zM487,324h1v1h-1zM487,324h3v1h-3zM486,327h1v1h-1zM486,325h1v1h-1zM484,331h2v2h-2zM485,332h2v2h-2zM486,329h3v1h-3zM484,331h2v2h-2zM483,333h1v2h-1zM484,337h2v1h-2zM482,334h2v1h-2zM485,336h1v1h-1zM482,336h3v1h-3zM483,337h2v1h-2zM484,337h3v1h-3zM480,340h3v2h-3zM479,340h1v2h-1zM480,338h2v2h-2zM477,336h1v2h-1zM478,336h1v2h-1zM475,337h1v2h-1zM476,337h1v2h-1zM474,335h3v1h-3zM472,331h1v2h-1zM474,331h2v2h-2zM474,329h2v1h-2zM477,331h3v1h-3zM479,327h2v1h-2zM478,328h1v2h-1zM478,326h2v2h-2zM480,326h2v2h-2zM479,323h1v2h-1zM480,321h3v1h-3zM479,320h3v1h-3zM481,320h1v2h-1zM480,318h2v2h-2zM481,317h2v2h-2zM481,315h3v1h-3zM491,317h3v2h-3zM494,316h2v1h-2zM493,316h2v2h-2zM493,317h2v2h-2zM492,319h3v2h-3zM492,323h1v2h-1zM491,323h3v2h-3zM489,328h2v2h-2zM487,330h1v2h-1zM488,332h3v1h-3zM487,334h3v1h-3zM488,333h3v2h-3zM486,333h2v2h-2zM487,332h2v1h-2zM485,332h1v2h-1zM487,328h2v1h-2zM486,328h2v2h-2zM488,326h1v1h-1zM488,327h2v1h-2zM487,325h2v2h-2zM487,327h2v2h-2zM487,326h2v1h-2zM487,322h1v1h-1zM488,319h2v1h-2zM491,318h1v1h-1zM489,317h1v1h-1zM489,318h1v2h-1zM494,328h1v1h-1zM495,328h2v1h-2zM496,329h3v1h-3zM498,329h1v2h-1zM499,328h1v1h-1zM501,330h1v2h-1zM499,332h2v2h-2zM498,333h2v1h-2zM494,333h2v1h-2zM494,332h2v1h-2zM493,333h2v1h-2zM493,333h3v1h-3zM493,333h1v2h-1zM493,331h3v2h-3zM494,331h1v2h-1zM483,297h1v1h-1zM484,296h3v1h-3zM485,296h1v1h-1zM485,296h1v2h-1zM488,297h1v2h-1zM490,298h2v1h-2zM490,300h1v2h-1zM492,300h1v1h-1zM493,300h1v2h-1zM492,299h1v1h-1zM491,300h2v2h-2zM491,301h2v1h-2zM487,300h3v2h-3zM489,302h1v2h-1zM489,302h2v1h-2zM489,302h2v2h-2zM487,301h1v1h-1zM485,298h1v1h-1zM484,299h1v1h-1zM484,296h1v2h-1zM484,298h1v2h-1zM484,297h2v2h-2zM497,375h1v1h-1zM496,372h1v1h-1zM495,374h1v1h-1zM496,369h2v2h-2zM493,368h1v2h-1zM494,367h2v2h-2zM494,365h3v2h-3zM497,364h3v2h-3zM495,364h3v2h-3zM495,363h1v1h-1zM494,362h1v1h-1zM495,362h3v2h-3zM493,359h2v2h-2zM493,359h1v2h-1zM492,358h2v1h-2zM493,358h1v2h-1zM492,357h1v2h-1zM490,358h3v2h-3zM485,355h2v2h-2zM480,359h2v1h-2zM481,359h1v1h-1zM478,358h2v1h-2zM477,358h1v1h-1zM477,359h2v2h-2zM478,359h1v2h-1zM476,359h1v1h-1zM473,360h1v1h-1zM475,361h2v2h-2zM473,367h1v2h-1zM471,367h3v2h-3zM469,369h2v1h-2zM471,369h2v1h-2zM469,370h1v1h-1zM469,369h2v1h-2zM467,372h1v1h-1zM467,367h1v2h-1zM468,368h2v1h-2zM469,365h2v1h-2zM470,362h2v1h-2zM470,362h1v2h-1zM471,361h1v2h-1zM469,361h2v2h-2zM471,358h2v1h-2zM471,362h3v1h-3zM472,357h1v2h-1zM473,357h3v2h-3zM476,355h2v2h-2zM474,354h1v2h-1zM477,354h1v1h-1zM474,354h2v1h-2zM478,352h2v2h-2zM479,350h3v2h-3zM479,348h1v2h-1zM479,350h1v1h-1zM482,347h2v2h-2zM489,347h1v1h-1zM488,350h1v2h-1zM493,351h1v1h-1zM494,353h2v2h-2zM492,356h1v2h-1zM495,355h1v2h-1zM496,353h3v2h-3zM500,351h2v1h-2zM498,352h1v1h-1zM498,352h1v1h-1zM504,349h1v2h-1zM504,349h1v1h-1zM506,347h2v1h-2zM507,343h3v1h-3zM510,341h3v2h-3zM511,342h2v1h-2zM511,342h1v1h-1zM512,340h1v2h-1zM512,340h2v2h-2zM515,341h1v2h-1zM515,339h2v2h-2zM516,336h2v2h-2zM514,337h2v1h-2zM520,335h2v1h-2zM525,344h1v2h-1zM527,346h2v2h-2zM525,346h2v2h-2zM528,352h1v1h-1zM528,356h2v1h-2zM529,359h1v1h-1zM527,365h2v2h-2zM526,370h3v1h-3zM524,369h1v2h-1zM524,373h2v2h-2zM523,371h3v1h-3zM525,376h2v1h-2zM522,378h3v2h-3zM522,377h2v2h-2zM520,380h3v1h-3zM521,370h1v1h-1zM517,373h2v1h-2zM515,383h1v1h-1zM512,385h3v2h-3zM449,453h2v1h-2zM449,450h2v1h-2zM462,450h2v2h-2zM464,452h2v2h-2zM466,451h2v1h-2zM470,451h1v1h-1zM474,452h1v2h-1zM477,451h2v1h-2zM482,452h3v1h-3zM482,453h2v1h-2zM483,454h1v1h-1zM489,455h2v2h-2zM499,449h3v1h-3zM501,448h2v2h-2zM505,444h1v1h-1zM505,445h3v1h-3zM548,445h1v1h-1zM547,444h2v2h-2zM547,444h1v2h-1zM548,445h1v1h-1zM546,448h3v1h-3zM545,452h1v1h-1zM544,451h1v1h-1zM544,454h1v1h-1zM541,450h3v1h-3zM542,449h1v1h-1zM542,446h1v2h-1zM541,447h1v1h-1zM542,447h2v1h-2zM541,446h1v1h-1zM542,444h3v1h-3zM545,438h2v2h-2zM545,440h3v2h-3zM557,447h1v1h-1zM558,448h3v2h-3zM558,449h2v2h-2zM557,451h1v1h-1zM557,449h2v2h-2zM558,451h1v1h-1zM556,450h3v2h-3zM557,455h1v1h-1zM557,456h2v2h-2zM556,459h1v2h-1zM553,459h2v1h-2zM553,459h3v2h-3zM552,460h1v2h-1zM551,460h2v2h-2zM551,462h1v2h-1zM545,465h2v1h-2zM545,463h2v1h-2zM544,463h1v1h-1zM545,461h1v1h-1zM543,461h1v1h-1zM544,460h3v2h-3zM543,458h1v2h-1zM545,455h3v2h-3zM546,455h2v1h-2zM547,453h2v1h-2zM547,453h1v2h-1zM546,452h2v2h-2zM548,454h2v2h-2zM549,451h2v1h-2zM551,447h2v1h-2zM553,448h1v1h-1zM552,446h2v1h-2zM552,432h1v2h-1zM557,431h1v1h-1zM557,433h3v2h-3zM557,436h1v1h-1zM553,436h1v1h-1zM552,435h2v1h-2zM552,434h1v2h-1zM552,434h1v2h-1zM552,434h2v2h-2zM551,433h1v2h-1zM450,160h1v2h-1zM451,160h2v1h-2zM452,159h2v1h-2zM446,151h1v2h-1zM443,149h3v2h-3zM444,148h1v2h-1zM443,146h1v2h-1zM444,146h1v2h-1zM442,144h2v2h-2zM441,141h2v2h-2zM443,141h3v2h-3zM442,134h2v1h-2zM445,131h1v2h-1zM448,128h1v2h-1zM448,128h2v2h-2zM451,122h1v2h-1zM452,118h2v2h-2zM453,118h1v2h-1zM453,118h1v2h-1zM455,114h1v1h-1zM229,452h1v1h-1zM232,449h1v1h-1zM233,448h2v2h-2zM233,450h1v1h-1zM228,450h1v1h-1zM229,449h1v1h-1zM236,454h3v2h-3zM236,459h3v1h-3zM233,453h1v2h-1zM237,462h2v2h-2zM235,458h3v2h-3zM235,462h2v2h-2zM234,462h2v1h-2zM344,150h1v2h-1zM344,151h1v2h-1zM343,150h2v2h-2zM344,150h2v2h-2zM345,148h2v2h-2zM345,151h3v1h-3zM347,152h2v2h-2zM346,153h3v1h-3zM347,154h1v2h-1zM346,155h2v1h-2zM346,157h2v1h-2zM346,156h1v2h-1zM347,158h2v1h-2zM346,159h2v1h-2zM357,153h1v2h-1zM359,149h2v2h-2zM355,148h2v1h-2zM359,149h1v1h-1zM363,151h1v1h-1zM361,151h2v2h-2zM361,155h3v1h-3zM363,151h2v2h-2zM362,153h1v1h-1zM363,151h3v2h-3zM368,153h3v2h-3zM363,151h1v1h-1zM450,262h2v2h-2zM452,265h2v1h-2zM452,266h2v1h-2zM450,266h1v1h-1zM448,266h1v2h-1zM448,265h1v1h-1zM447,265h2v1h-2zM447,265h2v2h-2zM447,263h1v1h-1zM291,262h3v1h-3zM291,264h2v2h-2zM292,265h1v1h-1zM292,271h1v1h-1zM294,270h2v1h-2zM294,274h3v2h-3zM295,278h1v1h-1zM295,277h2v1h-2zM296,280h3v2h-3zM296,280h1v1h-1zM297,288h1v2h-1zM296,289h3v1h-3zM297,292h3v1h-3zM297,292h2v2h-2zM295,300h1v2h-1zM294,299h1v1h-1zM294,299h1v1h-1zM294,301h2v1h-2zM294,302h2v2h-2zM293,304h1v1h-1zM293,305h2v1h-2zM292,306h1v2h-1zM292,306h3v1h-3zM291,309h3v2h-3zM287,311h1v2h-1zM268,324h1v1h-1zM267,322h1v1h-1zM265,323h3v1h-3zM265,324h1v2h-1zM262,325h2v2h-2zM261,330h3v1h-3zM261,329h2v1h-2zM257,330h1v1h-1zM257,331h1v2h-1zM256,333h1v1h-1zM462,283h2v1h-2zM472,285h1v1h-1zM471,289h1v2h-1zM464,289h2v2h-2zM463,287h3v2h-3zM472,284h1v1h-1zM478,287h3v1h-3zM478,291h2v2h-2zM482,298h1v2h-1zM479,293h3v2h-3zM475,300h2v2h-2zM483,306h2v1h-2zM478,301h3v2h-3zM477,308h2v1h-2zM476,297h1v1h-1zM478,304h2v1h-2zM492,311h2v1h-2zM481,304h2v1h-2zM484,314h1v2h-1zM491,310h1v1h-1zM494,313h2v2h-2zM485,302h2v2h-2zM498,312h1v1h-1zM496,310h1v2h-1zM493,313h1v1h-1zM499,319h3v1h-3zM490,313h3v1h-3zM500,318h3v2h-3zM499,323h1v2h-1zM493,315h1v2h-1zM498,312h1v2h-1zM495,314h1v2h-1zM500,315h2v2h-2zM498,325h2v2h-2zM498,324h2v1h-2zM499,330h2v2h-2zM496,333h2v2h-2zM495,320h2v2h-2zM501,327h1v2h-1zM498,327h3v2h-3zM498,337h1v2h-1zM504,331h1v1h-1zM499,326h2v1h-2zM491,342h1v1h-1zM500,334h2v2h-2z" fill="#000000" shape-rendering="crispEdges"/>
<g fill="none" stroke="#000000" stroke-linejoin="round" shape-rendering="crispEdges"><path d="M469.0,36.0L465.0,44.0L460.0,50.0L461.0,56.0L456.0,64.0L452.0,70.0L447.0,76.0L444.0,84.0L438.0,88.0L434.0,94.0L435.0,100.0L433.0,104.0L429.0,108.0L425.0,111.0L422.0,115.0L420.0,119.0L418.0,120.0L413.0,123.0L410.0,129.0L404.0,132.0L400.0,137.0L393.0,139.0L390.0,145.0L384.0,146.0L378.0,147.0L372.0,149.0L366.0,151.0" stroke-width="3.6" transform="translate(1.4,1.2)"/><path d="M366.0,151.0L360.0,155.0L356.0,153.0L354.0,150.0L353.0,144.0L350.0,143.0L349.6,150.0L349.0,155.0L345.0,157.0" stroke-width="3.0" transform="translate(0.5,1.5)"/><path d="M345.0,157.0L340.0,160.0L334.0,162.0L328.0,163.0L322.0,167.0L316.0,168.0L310.0,169.0L307.0,174.0L310.0,178.0L312.0,182.0L310.0,185.0L306.0,183.0L303.0,178.0L302.0,172.0L303.0,167.0" stroke-width="1.5" transform="translate(0.0,0.8)"/><path d="M299.0,163.0L294.0,166.0L289.0,163.0L284.0,162.0L281.0,165.0L275.0,167.0L270.0,170.0L268.0,173.0" stroke-width="2.0" transform="translate(0.0,1.0)"/><path d="M268.0,173.0L259.0,173.6L258.0,178.0L257.0,181.0L253.0,187.0" stroke-width="3.0" transform="translate(1.5,0.5)"/><path d="M180.2,439.8L187.0,442.0L196.4,445.6L202.2,449.0L210.3,456.0L215.0,460.6L219.6,465.3" stroke-width="1.5" transform="translate(1.0,-1.0)"/><path d="M376.0,394.0L381.0,390.0L387.0,384.0L392.0,379.0L396.0,374.0L395.0,370.0L400.0,369.0L404.0,374.0L409.0,379.0L411.0,385.0" stroke-width="2.0" transform="translate(0.0,-1.0)"/><path d="M411.0,385.0L417.0,388.0L422.0,391.0L428.0,393.0L430.0,395.0L424.0,398.0L417.0,400.0L418.0,404.0L412.0,407.0L408.0,410.0L405.0,415.0L408.0,420.0L410.0,427.0L411.0,434.0L413.0,439.0L418.0,446.0L424.0,452.0L420.0,454.0L413.0,453.0L410.0,458.0L406.0,470.0" stroke-width="2.0" transform="translate(1.0,0.0)"/><path d="M399.0,359.0L401.0,355.0L405.0,349.0L411.0,344.0L417.0,339.0L422.0,333.0L428.0,326.0L432.0,320.0L434.0,313.0L437.0,312.0L437.0,320.0L432.0,327.0L426.0,335.0L420.0,341.0L414.0,347.0L408.0,352.0L404.0,357.0L401.0,361.0L399.0,359.0" stroke-width="2.0" transform="translate(0.0,0.0)"/><path d="M497.5,377.5L495.0,370.0L495.0,362.0L492.0,358.0L490.0,357.0L486.0,358.0L483.0,356.0L481.0,359.0L478.0,358.0L475.0,361.0L472.0,366.0L469.5,372.5L467.0,371.0L468.0,364.0L471.0,358.0L475.0,353.0L480.0,349.0L485.0,347.5L490.0,350.0L494.0,355.0L499.0,352.5L504.0,349.0L506.0,344.0L510.0,342.5L515.0,337.5" stroke-width="2.5" transform="translate(-0.5,-0.5)"/><path d="M517.5,330.0L521.0,337.5L526.0,345.0L528.8,355.0L527.5,365.0L524.0,375.0L521.0,379.0L521.0,372.0L520.0,368.0L518.0,370.0L516.0,375.0L515.0,382.5L510.0,386.0" stroke-width="1.5" transform="translate(0.5,0.0)"/><path d="M441.7,456.0L447.4,453.0L453.0,448.0L458.7,449.5L465.5,451.7L475.7,451.7L482.5,454.0L489.3,454.0L496.0,451.7L500.6,448.3L505.0,443.8L509.2,442.7" stroke-width="1.5" transform="translate(0.0,-0.5)"/><path d="M451.0,160.0L449.2,156.0L446.2,152.3L443.7,148.3L441.9,142.3L442.6,136.2L445.2,131.2L448.7,125.2L452.2,119.1L454.7,115.1L458.0,112.0" stroke-width="1.5" transform="translate(-0.6,0.0)"/><path d="M291.0,262.0L293.4,272.0L295.5,281.0L297.0,289.0L295.8,296.0L293.6,303.5L290.0,310.0L284.0,314.0" stroke-width="1.2" transform="translate(0.5,0.0)"/></g>
<path d="M449.0,210.0L452.0,208.0L458.0,210.0L463.0,213.0L468.0,212.0L470.0,209.0L471.4,214.0L471.0,220.0L473.0,226.0L473.5,232.0L472.0,236.0L468.0,242.0L464.0,247.0L461.0,252.0L460.0,257.0L462.0,261.0L465.0,264.0L468.0,267.0L470.0,270.5L473.0,270.5L479.0,271.5L484.0,274.5L487.5,277.0L490.0,274.5L495.0,274.0L495.0,278.0L491.0,278.5L489.5,280.5L491.0,284.0L493.0,290.0L492.5,294.0L489.5,293.5L487.5,288.0L484.5,284.0L481.0,280.5L477.0,278.0L473.0,277.0L469.0,275.0L466.0,276.5L464.0,279.5L461.0,279.0L458.0,280.0L454.5,279.0L452.0,277.0L449.0,273.0L446.0,269.0L444.0,265.0L442.0,260.0L441.0,252.0L438.0,247.0L438.0,242.0L442.0,236.0L445.0,230.0L446.0,224.0L447.0,217.0ZM447.0,281.0L452.0,280.0L458.0,283.0L460.0,287.0L459.0,292.0L457.0,297.0L455.0,299.0L452.0,294.0L449.0,288.0L447.0,284.0ZM499.0,296.0L503.0,294.0L511.0,295.0L514.0,300.0L515.0,307.0L513.0,312.0L509.0,307.0L505.0,302.0L500.0,300.0ZM503.0,310.0L507.0,309.0L509.0,314.0L510.0,321.0L511.0,326.0L507.0,327.0L505.6,320.0L504.0,314.0ZM467.0,304.0L473.0,302.0L480.0,303.0L483.0,307.0L481.0,311.0L477.0,313.0L475.0,318.0L471.0,321.0L468.0,322.0L468.0,316.0L469.0,310.0ZM482.0,315.0L487.0,316.0L486.0,324.0L484.0,332.0L483.0,338.0L481.0,341.0L478.0,338.0L474.0,335.0L473.0,331.0L478.0,328.0L480.0,320.0ZM490.0,317.0L493.0,316.0L492.0,322.0L489.0,329.0L487.0,333.0L486.0,331.0L488.0,324.0ZM493.0,329.0L499.0,328.0L501.0,331.0L498.0,334.0L493.0,333.0ZM483.0,296.0L488.0,297.0L493.0,300.0L490.0,302.0L485.0,299.0ZM496.5,272.0L500.0,273.0L500.0,279.0L497.0,279.0ZM438.0,299.0L442.0,297.0L444.0,301.0L441.0,305.0L438.0,304.0ZM466.0,362.0L470.0,361.0L470.0,368.0L468.0,376.0L466.0,374.0ZM546.0,437.0L548.0,441.5L547.0,449.5L543.6,453.0L541.4,448.0L542.5,441.5ZM555.0,443.8L558.0,446.0L557.0,453.0L555.0,459.7L548.0,460.8L546.0,464.0L544.8,465.0L543.6,459.7L546.0,454.0L550.4,449.5ZM552.0,431.0L556.0,430.0L557.0,434.0L553.0,437.0ZM278.0,408.0L281.0,407.0L283.0,411.0L281.0,415.0L278.0,413.0Z" fill="none" stroke="#000000" stroke-width="2.4" stroke-linejoin="round" shape-rendering="crispEdges" transform="translate(-0.8,0.4)"/>
<path d="M469.0,36.0L465.0,44.0L460.0,50.0L461.0,56.0L456.0,64.0L452.0,70.0L447.0,76.0L444.0,84.0L438.0,88.0L434.0,94.0L435.0,100.0L433.0,104.0L429.0,108.0L425.0,111.0L422.0,115.0L420.0,119.0L418.0,120.0L413.0,123.0L410.0,129.0L404.0,132.0L400.0,137.0L393.0,139.0L390.0,145.0L384.0,146.0L378.0,147.0L372.0,149.0L366.0,151.0L360.0,155.0L356.0,153.0L354.0,150.0L353.0,144.0L350.0,143.0L349.6,150.0L349.0,155.0L345.0,157.0L340.0,160.0L334.0,162.0L328.0,163.0L322.0,167.0L316.0,168.0L310.0,169.0L307.0,174.0L310.0,178.0L312.0,182.0L310.0,185.0L306.0,183.0L303.0,178.0L302.0,172.0L303.0,167.0L299.0,163.0L294.0,166.0L289.0,163.0L284.0,162.0L281.0,165.0L275.0,167.0L270.0,170.0L268.0,173.0L259.0,173.6L258.0,178.0L257.0,181.0L253.0,187.0L249.0,190.0L247.0,197.0L245.6,203.0L250.0,208.0L254.0,213.0L257.0,220.0L260.0,226.0L265.0,232.0L268.0,236.0L275.0,241.0L282.0,248.0L288.0,255.0L291.0,262.0L293.4,272.0L295.5,281.0L297.0,289.0L295.8,296.0L293.6,303.5L290.0,310.0L284.0,314.0L278.0,318.0L272.0,321.0L267.0,323.0L264.0,325.0L261.0,329.0L258.0,332.0L252.0,336.5L246.0,340.0L240.0,344.0L236.0,347.0L235.0,343.0L236.0,336.0L237.0,330.0L234.0,327.0L230.0,324.0L224.0,322.0L222.0,320.0L217.0,316.0L212.0,312.0L208.0,306.0L203.0,302.0L198.0,296.0L192.0,292.0L183.0,293.0L180.0,288.0L182.0,280.0L176.0,281.0L169.0,282.0L168.0,290.0L166.5,299.0L164.0,305.0L162.0,314.0L159.0,322.0L158.0,332.0L159.0,337.0L166.0,338.0L170.0,341.0L171.5,351.6L173.0,360.9L176.7,366.7L182.5,370.0L189.4,372.5L194.0,377.0L199.9,381.8L205.7,384.0L211.5,389.9L215.0,398.0L216.1,407.3L215.0,416.6L217.3,425.8L221.9,432.8L225.4,439.8L226.5,444.0L224.2,446.7L219.6,447.9L213.8,444.4L205.7,439.8L196.4,434.0L189.4,427.0L184.8,420.0L180.2,412.0L177.8,405.0L174.4,395.7L173.2,386.4L170.9,377.0L166.2,372.5L160.4,364.4L155.0,357.4L150.0,356.0L150.0,30.0ZM447.5,261.5L451.5,261.5L452.5,265.0L450.0,266.8L447.5,265.0ZM150.0,412.0L154.6,416.6L159.3,421.2L166.2,429.3L173.2,435.0L180.2,439.8L187.0,442.0L196.4,445.6L202.2,449.0L210.3,456.0L215.0,460.6L219.6,465.3L220.0,470.0L150.0,470.0ZM290.0,470.0L290.0,465.0L291.0,458.0L292.0,448.0L294.0,442.0L298.0,439.0L303.0,443.0L309.0,444.0L315.0,445.0L319.0,442.0L321.0,436.0L322.0,430.0L327.0,427.0L335.0,425.0L342.0,423.0L348.0,418.0L353.0,413.0L359.0,406.0L365.0,401.0L370.0,397.0L376.0,394.0L381.0,390.0L387.0,384.0L392.0,379.0L396.0,374.0L395.0,370.0L400.0,369.0L404.0,374.0L409.0,379.0L411.0,385.0L417.0,388.0L422.0,391.0L428.0,393.0L430.0,395.0L424.0,398.0L417.0,400.0L418.0,404.0L412.0,407.0L408.0,410.0L405.0,415.0L408.0,420.0L410.0,427.0L411.0,434.0L413.0,439.0L418.0,446.0L424.0,452.0L420.0,454.0L413.0,453.0L410.0,458.0L406.0,470.0ZM293.6,188.6L299.0,186.8L311.4,186.8L316.8,188.6L317.7,193.0L315.0,198.4L311.4,203.8L307.0,208.2L300.7,211.8L293.6,212.7L288.2,208.2L286.0,202.0L287.3,196.6L290.0,192.0ZM461.3,110.6L464.3,112.6L465.8,116.1L465.3,122.1L463.3,128.2L461.8,134.2L459.8,139.3L457.7,144.3L454.7,149.3L452.2,154.4L451.0,160.0L449.2,156.0L446.2,152.3L443.7,148.3L441.9,142.3L442.6,136.2L445.2,131.2L448.7,125.2L452.2,119.1L454.7,115.1L458.0,112.0ZM449.0,210.0L452.0,208.0L458.0,210.0L463.0,213.0L468.0,212.0L470.0,209.0L471.4,214.0L471.0,220.0L473.0,226.0L473.5,232.0L472.0,236.0L468.0,242.0L464.0,247.0L461.0,252.0L460.0,257.0L462.0,261.0L465.0,264.0L468.0,267.0L470.0,270.5L473.0,270.5L479.0,271.5L484.0,274.5L487.5,277.0L490.0,274.5L495.0,274.0L495.0,278.0L491.0,278.5L489.5,280.5L491.0,284.0L493.0,290.0L492.5,294.0L489.5,293.5L487.5,288.0L484.5,284.0L481.0,280.5L477.0,278.0L473.0,277.0L469.0,275.0L466.0,276.5L464.0,279.5L461.0,279.0L458.0,280.0L454.5,279.0L452.0,277.0L449.0,273.0L446.0,269.0L444.0,265.0L442.0,260.0L441.0,252.0L438.0,247.0L438.0,242.0L442.0,236.0L445.0,230.0L446.0,224.0L447.0,217.0ZM447.0,281.0L452.0,280.0L458.0,283.0L460.0,287.0L459.0,292.0L457.0,297.0L455.0,299.0L452.0,294.0L449.0,288.0L447.0,284.0ZM499.0,296.0L503.0,294.0L511.0,295.0L514.0,300.0L515.0,307.0L513.0,312.0L509.0,307.0L505.0,302.0L500.0,300.0ZM503.0,310.0L507.0,309.0L509.0,314.0L510.0,321.0L511.0,326.0L507.0,327.0L505.6,320.0L504.0,314.0ZM467.0,304.0L473.0,302.0L480.0,303.0L483.0,307.0L481.0,311.0L477.0,313.0L475.0,318.0L471.0,321.0L468.0,322.0L468.0,316.0L469.0,310.0ZM482.0,315.0L487.0,316.0L486.0,324.0L484.0,332.0L483.0,338.0L481.0,341.0L478.0,338.0L474.0,335.0L473.0,331.0L478.0,328.0L480.0,320.0ZM490.0,317.0L493.0,316.0L492.0,322.0L489.0,329.0L487.0,333.0L486.0,331.0L488.0,324.0ZM493.0,329.0L499.0,328.0L501.0,331.0L498.0,334.0L493.0,333.0ZM483.0,296.0L488.0,297.0L493.0,300.0L490.0,302.0L485.0,299.0ZM496.5,272.0L500.0,273.0L500.0,279.0L497.0,279.0ZM517.5,330.0L521.0,337.5L526.0,345.0L528.8,355.0L527.5,365.0L524.0,375.0L521.0,379.0L521.0,372.0L520.0,368.0L518.0,370.0L516.0,375.0L515.0,382.5L510.0,386.0L504.0,382.5L497.5,377.5L495.0,370.0L495.0,362.0L492.0,358.0L490.0,357.0L486.0,358.0L483.0,356.0L481.0,359.0L478.0,358.0L475.0,361.0L472.0,366.0L469.5,372.5L467.0,371.0L468.0,364.0L471.0,358.0L475.0,353.0L480.0,349.0L485.0,347.5L490.0,350.0L494.0,355.0L499.0,352.5L504.0,349.0L506.0,344.0L510.0,342.5L515.0,337.5ZM399.0,359.0L401.0,355.0L405.0,349.0L411.0,344.0L417.0,339.0L422.0,333.0L428.0,326.0L432.0,320.0L434.0,313.0L437.0,312.0L437.0,320.0L432.0,327.0L426.0,335.0L420.0,341.0L414.0,347.0L408.0,352.0L404.0,357.0L401.0,361.0ZM438.0,299.0L442.0,297.0L444.0,301.0L441.0,305.0L438.0,304.0ZM439.4,463.0L441.7,456.0L447.4,453.0L453.0,448.0L458.7,449.5L465.5,451.7L475.7,451.7L482.5,454.0L489.3,454.0L496.0,451.7L500.6,448.3L505.0,443.8L509.2,442.7L509.7,447.2L506.3,451.7L501.7,456.3L496.0,459.7L488.0,460.8L478.0,459.7L469.0,458.5L461.0,458.5L453.0,459.7L446.2,462.0L441.7,464.0ZM546.0,437.0L548.0,441.5L547.0,449.5L543.6,453.0L541.4,448.0L542.5,441.5ZM555.0,443.8L558.0,446.0L557.0,453.0L555.0,459.7L548.0,460.8L546.0,464.0L544.8,465.0L543.6,459.7L546.0,454.0L550.4,449.5ZM552.0,431.0L556.0,430.0L557.0,434.0L553.0,437.0ZM466.0,362.0L470.0,361.0L470.0,368.0L468.0,376.0L466.0,374.0ZM278.0,408.0L281.0,407.0L283.0,411.0L281.0,415.0L278.0,413.0Z" fill="#c0c0c0" fill-rule="evenodd" stroke="none" shape-rendering="crispEdges"/>

<g fill="#000000" shape-rendering="crispEdges"><ellipse cx="550.0" cy="90.0" rx="7.5" ry="2.2" transform="rotate(-55 550.0 90.0)" fill="#000000"/><ellipse cx="551.0" cy="89.0" rx="2.2" ry="0.5" transform="rotate(-55 551.0 89.0)" fill="#c0c0c0"/><ellipse cx="568.0" cy="65.0" rx="5.5" ry="2.2" transform="rotate(-45 568.0 65.0)" fill="#000000"/><ellipse cx="561.0" cy="72.0" rx="1.2" ry="1.2" transform="rotate(0 561.0 72.0)" fill="#000000"/><ellipse cx="562.0" cy="71.0" rx="0.6" ry="0.6" transform="rotate(0 562.0 71.0)" fill="#c0c0c0"/><ellipse cx="495.0" cy="123.0" rx="5.0" ry="1.6" transform="rotate(-15 495.0 123.0)" fill="#000000"/><ellipse cx="480.0" cy="123.0" rx="1.5" ry="0.8" transform="rotate(0 480.0 123.0)" fill="#000000"/><ellipse cx="512.0" cy="118.0" rx="2.2" ry="1.1" transform="rotate(20 512.0 118.0)" fill="#000000"/><ellipse cx="531.0" cy="94.0" rx="1.5" ry="0.8" transform="rotate(0 531.0 94.0)" fill="#000000"/><ellipse cx="537.0" cy="92.0" rx="1.0" ry="0.6" transform="rotate(0 537.0 92.0)" fill="#000000"/><ellipse cx="543.0" cy="96.0" rx="1.2" ry="0.7" transform="rotate(0 543.0 96.0)" fill="#000000"/><ellipse cx="466.0" cy="175.0" rx="0.9" ry="2.5" transform="rotate(10 466.0 175.0)" fill="#000000"/><ellipse cx="465.5" cy="182.0" rx="1.0" ry="2.2" transform="rotate(15 465.5 182.0)" fill="#000000"/><ellipse cx="460.0" cy="159.0" rx="1.1" ry="1.1" transform="rotate(0 460.0 159.0)" fill="#000000"/><ellipse cx="459.0" cy="197.0" rx="1.5" ry="1.2" transform="rotate(0 459.0 197.0)" fill="#000000"/><ellipse cx="466.0" cy="195.0" rx="1.1" ry="1.1" transform="rotate(0 466.0 195.0)" fill="#000000"/><ellipse cx="467.0" cy="203.0" rx="2.0" ry="1.6" transform="rotate(0 467.0 203.0)" fill="#000000"/><ellipse cx="458.0" cy="201.0" rx="1.1" ry="0.9" transform="rotate(0 458.0 201.0)" fill="#000000"/><ellipse cx="251.0" cy="423.0" rx="4.5" ry="2.2" transform="rotate(-20 251.0 423.0)" fill="#000000"/><ellipse cx="246.0" cy="424.0" rx="1.5" ry="1.5" transform="rotate(0 246.0 424.0)" fill="#000000"/><ellipse cx="256.0" cy="420.0" rx="1.5" ry="2.0" transform="rotate(0 256.0 420.0)" fill="#000000"/><ellipse cx="280.5" cy="411.0" rx="2.8" ry="3.8" transform="rotate(0 280.5 411.0)" fill="#000000"/><ellipse cx="280.5" cy="411.0" rx="1.6" ry="2.6" transform="rotate(0 280.5 411.0)" fill="#c0c0c0"/><ellipse cx="450.0" cy="381.0" rx="3.0" ry="2.2" transform="rotate(-25 450.0 381.0)" fill="#000000"/><ellipse cx="450.0" cy="381.0" rx="1.5" ry="0.9" transform="rotate(-25 450.0 381.0)" fill="#c0c0c0"/><ellipse cx="456.0" cy="383.5" rx="3.0" ry="2.0" transform="rotate(-20 456.0 383.5)" fill="#000000"/><ellipse cx="456.0" cy="383.5" rx="1.5" ry="0.8" transform="rotate(-20 456.0 383.5)" fill="#c0c0c0"/><ellipse cx="465.0" cy="375.5" rx="5.0" ry="2.5" transform="rotate(-20 465.0 375.5)" fill="#000000"/><ellipse cx="465.0" cy="375.5" rx="3.0" ry="1.2" transform="rotate(-20 465.0 375.5)" fill="#c0c0c0"/><ellipse cx="444.0" cy="387.0" rx="2.0" ry="1.5" transform="rotate(0 444.0 387.0)" fill="#000000"/><ellipse cx="460.0" cy="379.0" rx="1.5" ry="1.2" transform="rotate(0 460.0 379.0)" fill="#000000"/><ellipse cx="466.6" cy="374.7" rx="1.5" ry="1.5" transform="rotate(0 466.6 374.7)" fill="#000000"/><ellipse cx="439.0" cy="394.0" rx="1.8" ry="1.2" transform="rotate(0 439.0 394.0)" fill="#000000"/><ellipse cx="514.5" cy="418.0" rx="1.4" ry="3.6" transform="rotate(10 514.5 418.0)" fill="#000000"/><ellipse cx="532.0" cy="405.0" rx="1.3" ry="2.5" transform="rotate(0 532.0 405.0)" fill="#000000"/><ellipse cx="532.5" cy="411.0" rx="1.2" ry="2.0" transform="rotate(0 532.5 411.0)" fill="#000000"/><ellipse cx="532.0" cy="405.0" rx="0.6" ry="1.5" transform="rotate(0 532.0 405.0)" fill="#c0c0c0"/><ellipse cx="513.0" cy="428.0" rx="0.9" ry="1.2" transform="rotate(0 513.0 428.0)" fill="#000000"/><ellipse cx="512.0" cy="434.0" rx="0.9" ry="1.0" transform="rotate(0 512.0 434.0)" fill="#000000"/><ellipse cx="435.5" cy="309.0" rx="1.6" ry="3.0" transform="rotate(15 435.5 309.0)" fill="#000000"/><ellipse cx="434.0" cy="316.0" rx="1.5" ry="3.0" transform="rotate(20 434.0 316.0)" fill="#000000"/><ellipse cx="441.0" cy="301.0" rx="3.0" ry="3.2" transform="rotate(20 441.0 301.0)" fill="#000000"/><ellipse cx="441.0" cy="301.0" rx="1.5" ry="1.5" transform="rotate(20 441.0 301.0)" fill="#c0c0c0"/><ellipse cx="399.0" cy="367.0" rx="1.1" ry="1.1" transform="rotate(0 399.0 367.0)" fill="#000000"/><ellipse cx="402.0" cy="366.0" rx="1.1" ry="1.1" transform="rotate(0 402.0 366.0)" fill="#000000"/><ellipse cx="352.0" cy="147.0" rx="1.6" ry="4.5" transform="rotate(0 352.0 147.0)" fill="#000000"/><ellipse cx="360.0" cy="156.0" rx="4.0" ry="1.8" transform="rotate(0 360.0 156.0)" fill="#000000"/><ellipse cx="366.0" cy="153.0" rx="2.5" ry="1.5" transform="rotate(0 366.0 153.0)" fill="#000000"/><ellipse cx="224.0" cy="321.0" rx="2.0" ry="2.6" transform="rotate(30 224.0 321.0)" fill="#000000"/><ellipse cx="200.0" cy="444.0" rx="3.0" ry="2.0" transform="rotate(20 200.0 444.0)" fill="#000000"/><ellipse cx="200.0" cy="444.0" rx="1.8" ry="1.0" transform="rotate(20 200.0 444.0)" fill="#c0c0c0"/><ellipse cx="208.0" cy="450.0" rx="4.0" ry="2.2" transform="rotate(25 208.0 450.0)" fill="#000000"/><ellipse cx="208.0" cy="450.0" rx="2.8" ry="1.1" transform="rotate(25 208.0 450.0)" fill="#c0c0c0"/><ellipse cx="216.0" cy="455.0" rx="3.5" ry="2.2" transform="rotate(30 216.0 455.0)" fill="#000000"/><ellipse cx="216.0" cy="455.0" rx="2.2" ry="1.1" transform="rotate(30 216.0 455.0)" fill="#c0c0c0"/><ellipse cx="225.0" cy="455.0" rx="7.5" ry="5.5" transform="rotate(20 225.0 455.0)" fill="#000000"/><ellipse cx="233.0" cy="452.0" rx="1.5" ry="2.5" transform="rotate(0 233.0 452.0)" fill="#000000"/><ellipse cx="226.0" cy="449.0" rx="3.5" ry="1.5" transform="rotate(0 226.0 449.0)" fill="#000000"/><ellipse cx="232.0" cy="461.0" rx="2.0" ry="3.0" transform="rotate(0 232.0 461.0)" fill="#000000"/><ellipse cx="221.0" cy="452.5" rx="2.4" ry="1.3" transform="rotate(10 221.0 452.5)" fill="#c0c0c0"/><ellipse cx="228.5" cy="456.5" rx="1.6" ry="2.6" transform="rotate(0 228.5 456.5)" fill="#c0c0c0"/><ellipse cx="223.5" cy="460.0" rx="2.4" ry="1.3" transform="rotate(0 223.5 460.0)" fill="#c0c0c0"/><ellipse cx="230.0" cy="451.0" rx="1.2" ry="0.9" transform="rotate(0 230.0 451.0)" fill="#c0c0c0"/><ellipse cx="434.5" cy="138.0" rx="0.9" ry="2.4" transform="rotate(10 434.5 138.0)" fill="#000000"/><ellipse cx="433.5" cy="141.0" rx="1.2" ry="0.9" transform="rotate(0 433.5 141.0)" fill="#000000"/></g>
<path d="M153.0,142.8L155.0,142.8L159.0,143.3L161.8,143.4L162.2,147.7L160.1,148.8L158.8,151.6L159.4,154.7L158.2,157.5L162.0,158.7L164.7,158.5L167.0,159.9L168.7,162.4L170.6,166.3L174.9,165.9L177.5,166.3L180.7,164.5L183.4,162.4L184.4,164.9L185.0,167.3L183.1,168.8L179.5,170.3L178.0,173.2L175.5,176.1L174.8,178.9L172.0,179.7L170.6,182.0L168.3,183.5L164.7,184.0L161.6,185.3L157.9,187.0L155.3,186.8L153.0,188.0M170.6,182.0L173.8,184.2L175.5,187.0L175.7,189.8L174.5,193.0L174.5,194.8L177.9,194.8L180.8,194.8L183.1,195.9L185.3,195.8L185.7,198.4L186.3,202.6L186.4,205.4L184.8,207.6L184.4,210.5L183.9,213.2L182.9,216.2L181.3,218.9L181.4,222.3L185.3,224.2L187.9,223.1L189.5,220.9L192.0,219.9L192.6,217.8L195.9,216.5L197.0,214.4L200.3,215.3L204.0,216.4L206.5,216.6L209.0,215.4L211.8,212.8L213.8,210.5L216.2,210.3L218.7,211.5L221.6,212.5L224.6,214.4L225.8,216.1L228.5,219.3L230.0,221.2L232.5,222.3L232.4,225.0L233.7,228.3L234.0,230.0L234.3,233.2L233.8,235.6L235.0,238.0L237.9,240.2L239.0,244.0L241.4,245.4L242.6,247.1L244.0,250.0L242.9,252.0L244.1,255.8L243.0,258.0L243.6,260.9L243.3,263.4L244.0,266.0L242.0,269.3L240.0,271.0M185.0,167.3L187.0,169.0L190.3,170.3L192.2,169.3L192.3,165.5L191.2,162.4L191.2,159.7L191.3,157.3L190.3,154.5L192.2,152.6L196.0,152.4L198.0,153.2L199.3,150.7L202.0,148.7L205.0,149.2L207.0,149.6L210.7,151.5L212.8,151.6L216.0,149.0L217.7,147.7L220.3,149.6L222.6,150.6L225.9,148.0L227.6,146.7L231.2,144.9L234.4,144.7L236.8,143.1L237.7,140.5L240.3,139.4L242.6,140.8L245.0,143.1L247.2,143.7L251.0,143.8L253.0,144.7L255.7,145.3L260.0,146.7L260.2,148.9L258.7,152.1L259.0,154.5L261.3,156.9L263.0,160.4L265.6,161.3L269.8,163.4L272.3,163.7L275.7,164.4L278.4,164.1L280.6,162.6L283.5,161.4M202.0,148.7L200.2,150.7L199.0,153.6L200.4,157.2L203.0,159.5L206.1,160.2L207.9,162.4L208.0,166.1L208.9,169.3L210.7,171.6L211.8,174.2L214.7,176.1L217.7,177.1L221.0,176.5L224.6,174.2L226.7,175.0L229.5,177.1L229.6,179.3L230.5,183.0L233.7,185.3L235.4,187.0L233.4,189.1L232.5,192.8L230.2,193.1L226.6,193.8L224.1,195.6L222.6,197.7L224.9,198.9L228.5,201.7L230.6,202.8L234.4,205.6L237.1,206.7L239.3,208.5L240.4,211.4L242.3,214.4L244.5,215.9L245.6,218.6L248.2,220.3L249.4,222.9L251.4,225.1L253.0,226.2L254.4,228.4L257.0,232.0L257.9,235.4L260.0,237.0L262.8,239.7L265.0,242.0L267.2,243.4L270.0,246.0L268.1,249.5L268.0,252.0L269.9,255.9L272.0,258.0L270.1,262.1L270.0,265.0L268.0,266.0M203.0,302.0L206.0,300.0L205.1,298.3L203.0,296.0L202.2,292.7L202.1,291.1L202.0,288.0L202.1,285.2L201.6,283.3L201.0,280.0L201.7,277.1L204.0,274.0L206.5,272.6L208.0,270.0L210.5,269.0L214.0,268.0L216.6,267.5L220.1,267.9L222.5,267.3L225.6,266.9L228.0,267.6L231.8,267.3L234.0,267.0L236.4,268.9L240.0,271.0L243.4,272.1L246.0,272.0L250.0,273.0L252.2,271.0L253.0,268.0L255.3,266.6L258.0,266.0L260.9,267.4L263.0,269.0L265.6,268.2L268.0,266.0L268.0,267.9L268.9,271.2L270.0,274.0L270.6,277.7L272.0,280.0L271.6,282.4L271.1,285.5L271.0,288.0L270.6,290.0L270.3,293.8L270.0,296.0L267.5,298.4L264.0,299.0L261.3,301.1L259.0,302.0L256.8,302.7L254.0,305.0L251.8,306.4L249.0,306.0L248.0,310.0L249.6,311.8L252.0,314.0L250.0,318.0L246.6,317.4L244.0,316.0L242.7,317.6L240.0,320.0L238.0,324.0M248.0,260.0L248.4,263.7L247.7,265.6L248.4,267.9L249.5,271.3L249.0,274.0L249.5,276.6L249.6,280.4L249.2,282.6L250.0,286.0L249.9,288.5L250.4,291.0L250.9,294.0L251.0,296.0L249.1,297.5L246.9,298.5L244.0,300.0L240.7,300.5L238.0,302.0L234.0,303.0L235.4,305.3L236.0,308.0L236.4,310.9L237.1,313.7L238.0,316.0L238.7,319.0L239.0,322.0M155.0,274.0L156.4,275.7L155.3,278.9L157.3,280.8L157.0,284.0L157.7,286.1L158.7,288.5L160.0,292.0L161.2,293.9L162.9,296.7L163.0,300.0L163.6,302.2L165.0,306.0M171.0,376.0L174.3,376.6L177.0,377.8L180.0,378.0L181.7,379.9L183.2,384.2L185.0,386.0L186.7,385.1L189.5,383.0L191.6,382.2L193.9,381.8L197.8,383.1L200.0,382.0M298.0,439.0L300.4,441.5L300.8,443.2L302.8,445.0L305.0,448.0L307.3,450.4L309.6,451.5L312.0,453.0L314.6,452.6L316.8,451.3L320.4,450.9L322.0,451.0L324.5,450.0L327.9,450.6L329.5,449.7L333.0,449.0L334.3,447.2L337.0,444.0L340.3,444.5L344.0,444.0L346.8,446.2L349.0,447.0L352.1,447.1L355.0,448.0L358.1,446.2L360.0,445.0L362.8,443.9L366.0,444.0L366.3,441.2L368.3,439.8L368.0,435.8L369.0,434.0L371.6,432.2L375.0,430.0L374.7,427.6L376.0,425.0L377.9,422.7L380.0,420.0L379.6,417.8L381.3,413.3L381.5,410.9L381.0,408.0L382.8,407.6L386.0,406.0L389.3,405.6L391.3,405.8L394.3,406.3L398.0,406.0L401.2,406.6L404.0,407.0L405.7,408.2L408.0,410.0M361.0,403.0L362.8,405.6L365.0,406.7L366.4,408.5L368.0,411.0L368.4,408.5L370.0,406.0L370.1,404.2L370.9,400.7L370.0,398.0M373.0,400.0L374.3,403.0L374.0,406.0L377.0,406.0L377.4,403.5L376.5,401.7L376.2,398.9L377.0,396.0M306.0,136.0L310.0,138.0L312.4,136.9L316.0,137.0L319.5,137.8L323.0,138.0M182.0,222.0L186.0,221.0L190.0,223.0" stroke="#000000" stroke-width="1" fill="none" shape-rendering="crispEdges" stroke-linejoin="round"/>
<path d="M168.5,38L168.5,43M168.5,460L168.5,465M195.5,38L195.5,43M195.5,460L195.5,465M222.5,38L222.5,43M222.5,460L222.5,465M250.5,38L250.5,43M250.5,460L250.5,465M277.5,38L277.5,43M277.5,460L277.5,465M304.5,38L304.5,43M304.5,460L304.5,465M331.5,38L331.5,43M331.5,460L331.5,465M358.5,38L358.5,43M358.5,460L358.5,465M385.5,38L385.5,43M385.5,460L385.5,465M412.5,38L412.5,43M412.5,460L412.5,465M440.5,38L440.5,43M440.5,460L440.5,465M467.5,38L467.5,43M467.5,460L467.5,465M494.5,38L494.5,43M494.5,460L494.5,465M521.5,38L521.5,43M521.5,460L521.5,465M548.5,38L548.5,43M548.5,460L548.5,465M155,438.5L160,438.5M570,438.5L575,438.5M155,411.5L160,411.5M570,411.5L575,411.5M155,384.5L160,384.5M570,384.5L575,384.5M155,357.5L160,357.5M570,357.5L575,357.5M155,329.5L160,329.5M570,329.5L575,329.5M155,301.5L160,301.5M570,301.5L575,301.5M155,274.5L160,274.5M570,274.5L575,274.5M155,246.5L160,246.5M570,246.5L575,246.5M155,217.5L160,217.5M570,217.5L575,217.5M155,188.5L160,188.5M570,188.5L575,188.5M155,159.5L160,159.5M570,159.5L575,159.5M155,130.5L160,130.5M570,130.5L575,130.5M155,100.5L160,100.5M570,100.5L575,100.5M155,69.5L160,69.5M570,69.5L575,69.5M155,38.5L160,38.5" stroke="#000000" stroke-width="1" fill="none" shape-rendering="crispEdges"/>
</g>
<rect x="154" y="37" width="422" height="429" fill="none" stroke="#000000" stroke-width="2" shape-rendering="crispEdges"/>
<rect x="245" y="524" width="241" height="13" fill="url(#cb)"/>
<rect x="245" y="524" width="2" height="13" fill="#000000"/>
<text x="238.0" y="20.0" font-size="14" text-anchor="start" textLength="254.6" lengthAdjust="spacingAndGlyphs" fill="#00004d">Significant Wave Height with Wave Direction</text>
<text x="274.5" y="31.5" font-size="12" text-anchor="start" font-style="italic" textLength="181.0" lengthAdjust="spacingAndGlyphs" fill="#00004d">Valid For Oct-11-2020 06:00 GMT</text>
<text x="171.6" y="483.0" font-size="11" text-anchor="middle" font-style="italic" fill="#000000">100 E</text>
<text x="239.4" y="483.0" font-size="11" text-anchor="middle" font-style="italic" fill="#000000">105 E</text>
<text x="307.3" y="483.0" font-size="11" text-anchor="middle" font-style="italic" fill="#000000">110 E</text>
<text x="375.1" y="483.0" font-size="11" text-anchor="middle" font-style="italic" fill="#000000">115 E</text>
<text x="443.0" y="483.0" font-size="11" text-anchor="middle" font-style="italic" fill="#000000">120 E</text>
<text x="510.9" y="483.0" font-size="11" text-anchor="middle" font-style="italic" fill="#000000">125 E</text>
<text x="579.2" y="483.0" font-size="11" text-anchor="middle" font-style="italic" fill="#000000">130 E</text>
<text x="584.0" y="42.4" font-size="11" text-anchor="start" font-style="italic" fill="#000000">30 N</text>
<text x="584.0" y="118.9" font-size="11" text-anchor="start" font-style="italic" fill="#000000">25 N</text>
<text x="584.0" y="192.4" font-size="11" text-anchor="start" font-style="italic" fill="#000000">20 N</text>
<text x="584.0" y="263.6" font-size="11" text-anchor="start" font-style="italic" fill="#000000">15 N</text>
<text x="584.0" y="333.1" font-size="11" text-anchor="start" font-style="italic" fill="#000000">10 N</text>
<text x="584.0" y="401.6" font-size="11" text-anchor="start" font-style="italic" fill="#000000">5 N</text>
<text x="584.0" y="469.4" font-size="11" text-anchor="start" font-style="italic" fill="#000000">0</text>
<text x="154.4" y="497.0" font-size="11.5" text-anchor="start" textLength="92.0" lengthAdjust="spacingAndGlyphs" fill="#00004d">oceanweather inc.</text>
<text x="461.0" y="495.0" font-size="9.5" text-anchor="start" font-style="italic" textLength="115.0" lengthAdjust="spacingAndGlyphs" fill="#00004d">Plotted at Oct11, 2020 02:00 GMT</text>
<text x="296.3" y="509.0" font-size="8.7" text-anchor="start" textLength="138.4" lengthAdjust="spacing" fill="#00004d">Significant Wave Height (Meters)</text>
<text x="300.4" y="556.5" font-size="8.7" text-anchor="start" textLength="130.2" lengthAdjust="spacing" fill="#00004d">Significant Wave Height (Feet)</text>
<text x="245.5" y="520.6" font-size="8.7" text-anchor="middle" fill="#00004d">0</text>
<text x="265.5" y="520.6" font-size="8.7" text-anchor="middle" fill="#00004d">1</text>
<text x="285.6" y="520.6" font-size="8.7" text-anchor="middle" fill="#00004d">2</text>
<text x="305.6" y="520.6" font-size="8.7" text-anchor="middle" fill="#00004d">3</text>
<text x="325.7" y="520.6" font-size="8.7" text-anchor="middle" fill="#00004d">4</text>
<text x="345.7" y="520.6" font-size="8.7" text-anchor="middle" fill="#00004d">5</text>
<text x="365.8" y="520.6" font-size="8.7" text-anchor="middle" fill="#00004d">6</text>
<text x="385.8" y="520.6" font-size="8.7" text-anchor="middle" fill="#00004d">7</text>
<text x="405.8" y="520.6" font-size="8.7" text-anchor="middle" fill="#00004d">8</text>
<text x="425.9" y="520.6" font-size="8.7" text-anchor="middle" fill="#00004d">9</text>
<text x="445.9" y="520.6" font-size="8.7" text-anchor="middle" fill="#00004d">10</text>
<text x="466.0" y="520.6" font-size="8.7" text-anchor="middle" fill="#00004d">11</text>
<text x="486.0" y="520.6" font-size="8.7" text-anchor="middle" fill="#00004d">12</text>
<text x="245.5" y="545.0" font-size="8.7" text-anchor="middle" fill="#00004d">0</text>
<text x="275.6" y="545.0" font-size="8.7" text-anchor="middle" fill="#00004d">5</text>
<text x="305.6" y="545.0" font-size="8.7" text-anchor="middle" fill="#00004d">10</text>
<text x="335.7" y="545.0" font-size="8.7" text-anchor="middle" fill="#00004d">15</text>
<text x="365.8" y="545.0" font-size="8.7" text-anchor="middle" fill="#00004d">20</text>
<text x="395.8" y="545.0" font-size="8.7" text-anchor="middle" fill="#00004d">25</text>
<text x="425.9" y="545.0" font-size="8.7" text-anchor="middle" fill="#00004d">30</text>
<text x="455.9" y="545.0" font-size="8.7" text-anchor="middle" fill="#00004d">35</text>
<text x="486.0" y="545.0" font-size="8.7" text-anchor="middle" fill="#00004d">40</text>
</svg>
</body></html>
